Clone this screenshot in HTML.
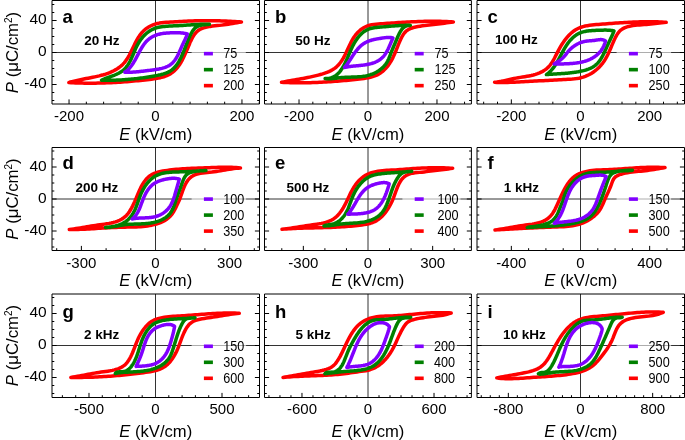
<!DOCTYPE html>
<html><head><meta charset="utf-8"><style>
html,body{margin:0;padding:0;background:#fff;overflow:hidden;}
svg{display:block;font-family:"Liberation Sans",sans-serif;will-change:transform;}
</style></head><body>
<svg xmlns="http://www.w3.org/2000/svg" width="685" height="440" viewBox="0 0 685 440"><rect width="685" height="440" fill="#fff"/><g><line x1="52.0" y1="52.5" x2="259.5" y2="52.5" stroke="#333" stroke-width="1"/><line x1="155.5" y1="0.5" x2="155.5" y2="104.0" stroke="#333" stroke-width="1"/><path d="M241.50,22.00 239.29,21.84 237.08,21.69 234.87,21.55 232.66,21.42 230.44,21.29 228.22,21.18 226.00,21.07 223.78,20.98 221.56,20.90 219.33,20.82 217.11,20.76 214.89,20.71 212.67,20.67 210.45,20.65 208.23,20.63 206.01,20.63 203.79,20.64 201.58,20.67 199.37,20.71 197.16,20.76 194.95,20.82 192.75,20.90 190.54,20.98 188.34,21.08 186.13,21.18 183.92,21.29 181.70,21.40 179.48,21.52 177.26,21.65 175.03,21.78 172.80,21.90 170.55,22.03 168.30,22.17 166.05,22.31 163.81,22.50 161.58,22.75 159.37,23.09 157.20,23.54 155.07,24.12 153.00,24.85 150.99,25.73 149.05,26.76 147.21,27.92 145.45,29.21 143.81,30.64 142.28,32.19 140.88,33.85 139.57,35.61 138.35,37.45 137.20,39.37 136.12,41.34 135.08,43.36 134.08,45.40 133.10,47.46 132.12,49.51 131.14,51.56 130.13,53.58 129.08,55.56 127.98,57.48 126.80,59.35 125.55,61.13 124.19,62.82 122.73,64.41 121.14,65.89 119.43,67.25 117.63,68.50 115.75,69.65 113.81,70.70 111.83,71.66 109.81,72.53 107.75,73.33 105.66,74.05 103.54,74.71 101.40,75.31 99.24,75.87 97.06,76.38 94.86,76.86 92.66,77.31 90.45,77.75 88.24,78.17 86.02,78.58 83.82,79.00 81.62,79.42 79.43,79.87 77.26,80.34 75.11,80.84 72.98,81.38 70.87,81.96 68.80,82.60 71.05,82.72 73.31,82.82 75.55,82.91 77.80,82.98 80.05,83.05 82.29,83.10 84.53,83.14 86.77,83.16 89.00,83.17 91.24,83.17 93.47,83.16 95.71,83.14 97.94,83.11 100.17,83.06 102.40,83.00 104.63,82.93 106.86,82.85 109.09,82.76 111.32,82.66 113.55,82.54 115.78,82.42 118.01,82.29 120.24,82.14 122.47,81.99 124.70,81.82 126.94,81.65 129.17,81.47 131.41,81.27 133.64,81.07 135.88,80.86 138.12,80.64 140.37,80.41 142.61,80.17 144.86,79.93 147.11,79.67 149.36,79.41 151.61,79.14 153.86,78.84 156.10,78.51 158.32,78.13 160.50,77.67 162.65,77.12 164.75,76.46 166.79,75.67 168.77,74.74 170.67,73.64 172.48,72.37 174.21,70.92 175.83,69.32 177.35,67.60 178.75,65.79 180.02,63.92 181.19,62.01 182.26,60.06 183.26,58.08 184.20,56.07 185.11,54.05 186.01,52.03 186.91,50.00 187.81,47.96 188.72,45.89 189.63,43.78 190.56,41.65 191.53,39.54 192.57,37.49 193.70,35.54 194.96,33.74 196.35,32.12 197.92,30.72 199.67,29.56 201.56,28.61 203.59,27.85 205.72,27.24 207.94,26.76 210.23,26.39 212.55,26.09 214.88,25.84 217.21,25.61 219.50,25.38 221.76,25.12 223.97,24.83 226.15,24.52 228.32,24.20 230.48,23.85 232.64,23.50 234.81,23.13 237.01,22.75 239.23,22.38 241.50,22.00Z" fill="none" stroke="#ff0000" stroke-width="3.5" stroke-linejoin="round" stroke-linecap="round"/><path d="M209.50,24.30 208.00,24.26 206.50,24.24 205.01,24.24 203.51,24.26 202.02,24.29 200.53,24.34 199.03,24.39 197.54,24.46 196.06,24.54 194.57,24.62 193.08,24.71 191.60,24.81 190.12,24.91 188.64,25.00 187.15,25.10 185.68,25.20 184.20,25.29 182.72,25.38 181.24,25.46 179.76,25.55 178.28,25.63 176.80,25.71 175.30,25.79 173.81,25.86 172.30,25.94 170.79,26.02 169.26,26.10 167.73,26.18 166.19,26.28 164.66,26.40 163.13,26.55 161.61,26.74 160.11,26.97 158.64,27.26 157.19,27.61 155.77,28.02 154.38,28.52 153.04,29.09 151.73,29.74 150.46,30.46 149.24,31.24 148.05,32.09 146.90,33.00 145.79,33.97 144.72,34.99 143.69,36.05 142.70,37.16 141.75,38.32 140.84,39.51 139.98,40.73 139.15,41.99 138.37,43.27 137.62,44.57 136.92,45.90 136.26,47.24 135.64,48.59 135.03,49.96 134.45,51.33 133.87,52.72 133.30,54.10 132.71,55.49 132.11,56.88 131.49,58.27 130.84,59.66 130.15,61.02 129.43,62.36 128.66,63.68 127.86,64.95 127.00,66.17 126.09,67.34 125.13,68.45 124.11,69.49 123.02,70.44 121.87,71.32 120.66,72.12 119.41,72.85 118.10,73.53 116.76,74.16 115.39,74.74 114.00,75.30 112.59,75.83 111.17,76.35 109.74,76.86 108.32,77.38 106.91,77.90 105.51,78.45 104.14,79.03 102.80,79.64 101.50,80.30 103.04,80.32 104.58,80.32 106.11,80.32 107.65,80.31 109.17,80.30 110.70,80.27 112.22,80.24 113.74,80.20 115.25,80.16 116.77,80.10 118.28,80.04 119.79,79.96 121.30,79.88 122.81,79.79 124.31,79.70 125.82,79.59 127.32,79.48 128.83,79.36 130.33,79.22 131.83,79.09 133.34,78.94 134.84,78.78 136.34,78.62 137.85,78.44 139.35,78.26 140.86,78.07 142.37,77.87 143.87,77.66 145.38,77.44 146.90,77.21 148.41,76.97 149.93,76.73 151.45,76.47 152.97,76.21 154.49,75.93 156.02,75.65 157.55,75.36 159.07,75.04 160.59,74.70 162.09,74.32 163.56,73.91 165.01,73.44 166.42,72.91 167.79,72.32 169.12,71.66 170.39,70.92 171.61,70.09 172.76,69.17 173.86,68.16 174.89,67.07 175.86,65.91 176.79,64.69 177.66,63.42 178.49,62.12 179.27,60.78 180.01,59.42 180.72,58.05 181.39,56.67 182.03,55.28 182.65,53.88 183.24,52.48 183.82,51.08 184.38,49.67 184.93,48.26 185.48,46.84 186.03,45.43 186.58,44.01 187.13,42.60 187.69,41.19 188.27,39.78 188.87,38.38 189.49,36.98 190.13,35.59 190.80,34.21 191.52,32.85 192.28,31.53 193.12,30.29 194.04,29.13 195.05,28.10 196.18,27.20 197.43,26.47 198.80,25.90 200.25,25.45 201.76,25.12 203.32,24.87 204.90,24.68 206.47,24.54 208.01,24.42 209.50,24.30Z" fill="none" stroke="#008000" stroke-width="3.5" stroke-linejoin="round" stroke-linecap="round"/><path d="M187.30,34.00 186.42,33.77 185.54,33.56 184.66,33.39 183.77,33.23 182.88,33.10 181.98,32.98 181.09,32.89 180.19,32.82 179.28,32.76 178.38,32.72 177.47,32.70 176.57,32.68 175.65,32.68 174.74,32.69 173.83,32.71 172.91,32.73 171.99,32.77 171.08,32.80 170.16,32.85 169.23,32.89 168.31,32.94 167.39,33.00 166.47,33.06 165.55,33.14 164.63,33.23 163.71,33.34 162.79,33.46 161.88,33.61 160.97,33.78 160.06,33.97 159.16,34.19 158.26,34.43 157.38,34.70 156.51,34.99 155.64,35.30 154.79,35.64 153.96,36.00 153.14,36.39 152.34,36.81 151.55,37.25 150.79,37.72 150.05,38.21 149.34,38.73 148.64,39.28 147.97,39.85 147.33,40.45 146.70,41.07 146.10,41.71 145.52,42.37 144.95,43.06 144.40,43.76 143.86,44.47 143.35,45.21 142.84,45.96 142.35,46.72 141.86,47.49 141.39,48.28 140.93,49.08 140.47,49.88 140.02,50.70 139.58,51.51 139.14,52.34 138.70,53.17 138.27,54.00 137.84,54.83 137.40,55.67 136.97,56.50 136.53,57.33 136.09,58.16 135.65,58.99 135.20,59.81 134.74,60.62 134.27,61.43 133.80,62.22 133.31,63.01 132.82,63.79 132.31,64.55 131.79,65.30 131.25,66.03 130.69,66.75 130.12,67.45 129.53,68.13 128.92,68.80 128.30,69.44 127.64,70.06 126.97,70.66 126.27,71.23 125.55,71.78 124.80,72.30 125.75,72.31 126.69,72.31 127.62,72.30 128.55,72.29 129.48,72.26 130.40,72.23 131.31,72.19 132.22,72.14 133.13,72.09 134.04,72.03 134.94,71.96 135.84,71.89 136.74,71.81 137.64,71.73 138.54,71.64 139.44,71.55 140.34,71.46 141.24,71.36 142.14,71.26 143.05,71.15 143.95,71.04 144.86,70.94 145.77,70.82 146.69,70.71 147.61,70.60 148.54,70.48 149.47,70.37 150.40,70.25 151.35,70.14 152.29,70.02 153.24,69.90 154.19,69.77 155.14,69.64 156.09,69.50 157.03,69.35 157.97,69.18 158.91,69.01 159.84,68.82 160.76,68.62 161.67,68.40 162.57,68.16 163.45,67.90 164.33,67.63 165.19,67.33 166.03,67.00 166.85,66.65 167.66,66.27 168.44,65.87 169.21,65.43 169.95,64.96 170.67,64.46 171.36,63.93 172.02,63.36 172.66,62.75 173.27,62.11 173.85,61.45 174.42,60.75 174.96,60.02 175.48,59.27 175.98,58.50 176.46,57.70 176.93,56.89 177.39,56.06 177.82,55.22 178.25,54.37 178.67,53.50 179.07,52.63 179.47,51.76 179.86,50.88 180.25,50.00 180.63,49.12 181.01,48.24 181.39,47.37 181.77,46.51 182.15,45.65 182.53,44.81 182.92,43.98 183.30,43.17 183.69,42.36 184.08,41.55 184.47,40.75 184.85,39.94 185.23,39.13 185.60,38.31 185.96,37.49 186.32,36.64 186.66,35.78 186.99,34.90 187.30,34.00Z" fill="none" stroke="#8000ff" stroke-width="3.5" stroke-linejoin="round" stroke-linecap="round"/><rect x="191.60" y="42.5" width="54.20" height="55" fill="#fff" fill-opacity="0.6"/><rect x="203.90" y="51.85" width="9" height="3.6" fill="#8000ff"/><text transform="translate(223.20,58.45) scale(0.95,1.05)" font-size="13.3" text-anchor="start" font-weight="normal" >75</text><rect x="203.90" y="67.85" width="9" height="3.6" fill="#008000"/><text transform="translate(223.20,74.45) scale(0.95,1.05)" font-size="13.3" text-anchor="start" font-weight="normal" >125</text><rect x="203.90" y="83.85" width="9" height="3.6" fill="#ff0000"/><text transform="translate(223.20,90.45) scale(0.95,1.05)" font-size="13.3" text-anchor="start" font-weight="normal" >200</text><path d="M52.0,0.5 H259.5 V104.0 H52.0 Z" fill="none" stroke="#000" stroke-width="1"/><line x1="52.0" y1="100.50" x2="54.3" y2="100.50" stroke="#000" stroke-width="1"/><line x1="259.5" y1="100.50" x2="257.2" y2="100.50" stroke="#000" stroke-width="1"/><line x1="52.0" y1="92.50" x2="54.3" y2="92.50" stroke="#000" stroke-width="1"/><line x1="259.5" y1="92.50" x2="257.2" y2="92.50" stroke="#000" stroke-width="1"/><line x1="52.0" y1="84.50" x2="56.6" y2="84.50" stroke="#000" stroke-width="1"/><line x1="259.5" y1="84.50" x2="254.9" y2="84.50" stroke="#000" stroke-width="1"/><line x1="52.0" y1="76.50" x2="54.3" y2="76.50" stroke="#000" stroke-width="1"/><line x1="259.5" y1="76.50" x2="257.2" y2="76.50" stroke="#000" stroke-width="1"/><line x1="52.0" y1="68.50" x2="54.3" y2="68.50" stroke="#000" stroke-width="1"/><line x1="259.5" y1="68.50" x2="257.2" y2="68.50" stroke="#000" stroke-width="1"/><line x1="52.0" y1="60.50" x2="54.3" y2="60.50" stroke="#000" stroke-width="1"/><line x1="259.5" y1="60.50" x2="257.2" y2="60.50" stroke="#000" stroke-width="1"/><line x1="52.0" y1="52.50" x2="56.6" y2="52.50" stroke="#000" stroke-width="1"/><line x1="259.5" y1="52.50" x2="254.9" y2="52.50" stroke="#000" stroke-width="1"/><line x1="52.0" y1="44.50" x2="54.3" y2="44.50" stroke="#000" stroke-width="1"/><line x1="259.5" y1="44.50" x2="257.2" y2="44.50" stroke="#000" stroke-width="1"/><line x1="52.0" y1="36.50" x2="54.3" y2="36.50" stroke="#000" stroke-width="1"/><line x1="259.5" y1="36.50" x2="257.2" y2="36.50" stroke="#000" stroke-width="1"/><line x1="52.0" y1="28.50" x2="54.3" y2="28.50" stroke="#000" stroke-width="1"/><line x1="259.5" y1="28.50" x2="257.2" y2="28.50" stroke="#000" stroke-width="1"/><line x1="52.0" y1="20.50" x2="56.6" y2="20.50" stroke="#000" stroke-width="1"/><line x1="259.5" y1="20.50" x2="254.9" y2="20.50" stroke="#000" stroke-width="1"/><line x1="52.0" y1="12.50" x2="54.3" y2="12.50" stroke="#000" stroke-width="1"/><line x1="259.5" y1="12.50" x2="257.2" y2="12.50" stroke="#000" stroke-width="1"/><line x1="52.0" y1="4.50" x2="54.3" y2="4.50" stroke="#000" stroke-width="1"/><line x1="259.5" y1="4.50" x2="257.2" y2="4.50" stroke="#000" stroke-width="1"/><line x1="69.04" y1="104.0" x2="69.04" y2="99.4" stroke="#000" stroke-width="1"/><line x1="86.33" y1="104.0" x2="86.33" y2="101.7" stroke="#000" stroke-width="1"/><line x1="103.62" y1="104.0" x2="103.62" y2="101.7" stroke="#000" stroke-width="1"/><line x1="120.92" y1="104.0" x2="120.92" y2="101.7" stroke="#000" stroke-width="1"/><line x1="138.21" y1="104.0" x2="138.21" y2="101.7" stroke="#000" stroke-width="1"/><line x1="172.79" y1="104.0" x2="172.79" y2="101.7" stroke="#000" stroke-width="1"/><line x1="190.08" y1="104.0" x2="190.08" y2="101.7" stroke="#000" stroke-width="1"/><line x1="207.38" y1="104.0" x2="207.38" y2="101.7" stroke="#000" stroke-width="1"/><line x1="224.67" y1="104.0" x2="224.67" y2="101.7" stroke="#000" stroke-width="1"/><line x1="241.96" y1="104.0" x2="241.96" y2="99.4" stroke="#000" stroke-width="1"/><line x1="259.25" y1="104.0" x2="259.25" y2="101.7" stroke="#000" stroke-width="1"/><text x="69.04" y="121.00" font-size="15.0" text-anchor="middle" font-weight="normal" >-200</text><text x="155.50" y="121.00" font-size="15.0" text-anchor="middle" font-weight="normal" >0</text><text x="241.96" y="121.00" font-size="15.0" text-anchor="middle" font-weight="normal" >200</text><text x="155.75" y="139.60" font-size="16.6" text-anchor="middle"><tspan font-style="italic">E</tspan> (kV/cm)</text><text x="62.50" y="22.60" font-size="18.5" text-anchor="start" font-weight="bold" >a</text><text x="84.20" y="45.00" font-size="13.5" text-anchor="start" font-weight="bold" >20 Hz</text><text x="46.70" y="24.40" font-size="15.5" text-anchor="end" font-weight="normal" >40</text><text x="46.70" y="56.40" font-size="15.5" text-anchor="end" font-weight="normal" >0</text><text x="46.70" y="88.40" font-size="15.5" text-anchor="end" font-weight="normal" >-40</text><text transform="translate(18.3,52.5) rotate(-90)" font-size="16.8" text-anchor="middle"><tspan font-style="italic">P</tspan> (&#956;C/cm<tspan font-size="10" dy="-6">2</tspan><tspan dy="6">)</tspan></text></g><g><line x1="264.5" y1="52.5" x2="471.4" y2="52.5" stroke="#333" stroke-width="1"/><line x1="368.0" y1="0.5" x2="368.0" y2="104.0" stroke="#333" stroke-width="1"/><path d="M453.40,22.00 451.19,21.84 448.98,21.69 446.78,21.57 444.57,21.47 442.36,21.39 440.16,21.33 437.95,21.28 435.75,21.25 433.54,21.24 431.34,21.24 429.14,21.26 426.93,21.29 424.73,21.34 422.52,21.39 420.32,21.46 418.12,21.54 415.92,21.63 413.71,21.73 411.51,21.83 409.31,21.95 407.11,22.07 404.90,22.19 402.70,22.32 400.50,22.46 398.30,22.59 396.10,22.74 393.89,22.88 391.69,23.02 389.49,23.17 387.28,23.32 385.06,23.47 382.84,23.63 380.61,23.79 378.38,23.96 376.14,24.15 373.93,24.41 371.74,24.76 369.61,25.25 367.54,25.90 365.55,26.74 363.64,27.75 361.82,28.93 360.10,30.25 358.48,31.70 356.96,33.28 355.56,34.96 354.27,36.72 353.08,38.57 351.97,40.48 350.93,42.44 349.93,44.44 348.98,46.48 348.03,48.53 347.09,50.58 346.13,52.63 345.14,54.66 344.11,56.66 343.02,58.61 341.86,60.49 340.62,62.29 339.29,63.99 337.85,65.58 336.30,67.05 334.63,68.37 332.83,69.55 330.93,70.60 328.94,71.55 326.89,72.39 324.78,73.15 322.63,73.84 320.47,74.48 318.31,75.07 316.15,75.63 313.99,76.16 311.83,76.66 309.67,77.13 307.51,77.58 305.35,78.00 303.20,78.42 301.04,78.81 298.88,79.20 296.72,79.58 294.55,79.96 292.39,80.33 290.22,80.71 288.04,81.09 285.87,81.48 283.69,81.88 281.50,82.30 283.73,82.42 285.97,82.52 288.20,82.60 290.43,82.67 292.66,82.72 294.89,82.76 297.12,82.78 299.35,82.79 301.58,82.78 303.81,82.76 306.04,82.73 308.27,82.68 310.50,82.63 312.73,82.56 314.95,82.47 317.18,82.38 319.41,82.28 321.64,82.17 323.87,82.05 326.09,81.92 328.32,81.78 330.55,81.64 332.77,81.48 335.00,81.32 337.23,81.16 339.45,80.98 341.68,80.80 343.90,80.62 346.13,80.43 348.36,80.24 350.58,80.04 352.81,79.84 355.03,79.61 357.25,79.37 359.46,79.10 361.68,78.80 363.88,78.47 366.08,78.10 368.27,77.68 370.45,77.20 372.60,76.64 374.70,75.95 376.74,75.12 378.69,74.10 380.55,72.92 382.33,71.58 384.01,70.11 385.59,68.52 387.08,66.83 388.47,65.05 389.76,63.20 390.94,61.30 392.03,59.35 393.04,57.36 393.99,55.33 394.89,53.28 395.76,51.21 396.60,49.12 397.43,47.03 398.27,44.93 399.13,42.84 400.02,40.77 400.97,38.71 401.98,36.70 403.10,34.80 404.37,33.04 405.80,31.47 407.44,30.15 409.28,29.08 411.28,28.22 413.41,27.54 415.62,27.00 417.87,26.56 420.14,26.18 422.39,25.85 424.64,25.56 426.89,25.29 429.12,25.04 431.34,24.80 433.56,24.55 435.76,24.29 437.96,24.03 440.15,23.75 442.34,23.47 444.53,23.18 446.73,22.88 448.94,22.59 451.16,22.29 453.40,22.00Z" fill="none" stroke="#ff0000" stroke-width="3.5" stroke-linejoin="round" stroke-linecap="round"/><path d="M410.40,25.40 409.14,25.37 407.87,25.35 406.62,25.35 405.37,25.36 404.12,25.38 402.87,25.42 401.63,25.47 400.39,25.53 399.15,25.59 397.91,25.67 396.68,25.75 395.44,25.84 394.20,25.93 392.96,26.03 391.72,26.13 390.48,26.24 389.23,26.35 387.98,26.45 386.73,26.56 385.48,26.67 384.22,26.77 382.95,26.87 381.69,26.97 380.41,27.06 379.13,27.16 377.86,27.27 376.59,27.39 375.33,27.54 374.08,27.72 372.84,27.93 371.63,28.19 370.44,28.50 369.27,28.87 368.13,29.30 367.02,29.81 365.95,30.38 364.91,31.01 363.90,31.71 362.92,32.46 361.98,33.26 361.06,34.11 360.18,35.00 359.33,35.94 358.51,36.90 357.72,37.90 356.96,38.93 356.23,39.98 355.53,41.04 354.87,42.13 354.23,43.22 353.61,44.32 353.03,45.43 352.46,46.55 351.91,47.67 351.38,48.80 350.87,49.94 350.36,51.07 349.87,52.22 349.38,53.36 348.89,54.51 348.40,55.65 347.92,56.80 347.42,57.94 346.92,59.09 346.42,60.23 345.89,61.36 345.36,62.49 344.81,63.62 344.23,64.74 343.64,65.85 343.01,66.95 342.37,68.03 341.69,69.09 340.98,70.12 340.24,71.12 339.46,72.07 338.64,72.98 337.78,73.85 336.88,74.65 335.94,75.40 334.95,76.08 333.91,76.69 332.82,77.22 331.68,77.67 330.48,78.03 329.23,78.30 327.92,78.47 326.54,78.54 325.10,78.50 326.41,78.64 327.70,78.71 328.97,78.73 330.24,78.71 331.49,78.65 332.74,78.55 333.98,78.43 335.22,78.30 336.45,78.15 337.69,78.00 338.93,77.85 340.17,77.71 341.42,77.59 342.67,77.48 343.94,77.40 345.20,77.33 346.48,77.28 347.76,77.23 349.04,77.19 350.32,77.15 351.60,77.12 352.89,77.08 354.17,77.04 355.46,76.99 356.74,76.93 358.02,76.85 359.30,76.76 360.57,76.64 361.83,76.51 363.09,76.35 364.35,76.16 365.59,75.94 366.83,75.68 368.05,75.39 369.27,75.06 370.47,74.68 371.66,74.27 372.84,73.81 373.99,73.32 375.13,72.78 376.24,72.20 377.32,71.58 378.38,70.93 379.41,70.23 380.41,69.49 381.38,68.71 382.31,67.89 383.20,67.03 384.06,66.13 384.87,65.19 385.64,64.21 386.36,63.18 387.03,62.12 387.66,61.02 388.24,59.88 388.77,58.71 389.27,57.52 389.74,56.31 390.20,55.09 390.65,53.87 391.11,52.66 391.57,51.47 392.05,50.29 392.54,49.12 393.03,47.96 393.52,46.81 394.02,45.65 394.51,44.50 395.00,43.33 395.48,42.17 395.97,41.00 396.45,39.83 396.95,38.66 397.45,37.49 397.97,36.32 398.50,35.15 399.05,33.99 399.62,32.85 400.23,31.74 400.89,30.67 401.60,29.66 402.37,28.72 403.22,27.87 404.15,27.12 405.18,26.49 406.30,25.99 407.54,25.63 408.91,25.43 410.40,25.40Z" fill="none" stroke="#008000" stroke-width="3.5" stroke-linejoin="round" stroke-linecap="round"/><path d="M393.00,38.00 392.34,37.83 391.67,37.69 391.01,37.58 390.34,37.51 389.66,37.46 388.99,37.44 388.32,37.44 387.64,37.46 386.96,37.49 386.28,37.55 385.60,37.62 384.92,37.70 384.23,37.79 383.55,37.89 382.86,37.99 382.18,38.09 381.49,38.20 380.81,38.30 380.12,38.41 379.44,38.52 378.75,38.63 378.06,38.74 377.38,38.86 376.70,38.98 376.02,39.11 375.34,39.25 374.66,39.39 373.98,39.55 373.31,39.71 372.64,39.88 371.97,40.06 371.31,40.25 370.64,40.46 369.99,40.67 369.33,40.90 368.69,41.15 368.05,41.40 367.41,41.67 366.79,41.95 366.17,42.25 365.56,42.56 364.96,42.89 364.37,43.23 363.79,43.59 363.22,43.96 362.66,44.35 362.12,44.75 361.59,45.17 361.07,45.61 360.55,46.06 360.06,46.52 359.57,46.99 359.09,47.48 358.62,47.98 358.15,48.48 357.70,49.00 357.26,49.53 356.82,50.06 356.39,50.61 355.97,51.16 355.55,51.71 355.14,52.27 354.74,52.84 354.34,53.41 353.94,53.98 353.55,54.56 353.17,55.14 352.79,55.72 352.41,56.30 352.03,56.88 351.66,57.46 351.29,58.04 350.92,58.61 350.55,59.19 350.18,59.76 349.80,60.33 349.43,60.90 349.05,61.47 348.67,62.03 348.29,62.59 347.90,63.15 347.50,63.71 347.10,64.26 346.69,64.81 346.27,65.36 345.84,65.90 345.41,66.44 344.96,66.97 344.50,67.50 345.17,67.34 345.85,67.19 346.52,67.06 347.20,66.93 347.88,66.81 348.57,66.70 349.26,66.59 349.94,66.50 350.64,66.40 351.33,66.32 352.02,66.24 352.72,66.16 353.42,66.09 354.11,66.02 354.81,65.96 355.51,65.89 356.22,65.83 356.92,65.77 357.62,65.70 358.32,65.64 359.03,65.57 359.73,65.51 360.44,65.44 361.14,65.36 361.84,65.29 362.55,65.21 363.25,65.12 363.95,65.03 364.65,64.93 365.35,64.82 366.05,64.71 366.75,64.59 367.45,64.46 368.15,64.32 368.84,64.17 369.53,64.00 370.22,63.83 370.91,63.65 371.59,63.45 372.27,63.25 372.94,63.03 373.60,62.79 374.26,62.55 374.91,62.29 375.55,62.02 376.19,61.73 376.81,61.43 377.43,61.11 378.03,60.78 378.62,60.44 379.20,60.08 379.77,59.70 380.32,59.30 380.86,58.89 381.38,58.46 381.89,58.02 382.38,57.55 382.86,57.07 383.32,56.57 383.77,56.05 384.20,55.52 384.61,54.98 385.01,54.42 385.41,53.85 385.78,53.27 386.15,52.67 386.51,52.07 386.86,51.46 387.19,50.84 387.52,50.21 387.84,49.57 388.16,48.93 388.46,48.29 388.76,47.64 389.06,46.98 389.35,46.33 389.64,45.67 389.92,45.01 390.20,44.36 390.48,43.70 390.76,43.05 391.03,42.40 391.31,41.75 391.59,41.11 391.86,40.47 392.14,39.84 392.43,39.22 392.71,38.61 393.00,38.00Z" fill="none" stroke="#8000ff" stroke-width="3.5" stroke-linejoin="round" stroke-linecap="round"/><rect x="402.40" y="42.5" width="54.60" height="55" fill="#fff" fill-opacity="0.6"/><rect x="414.70" y="51.85" width="9" height="3.6" fill="#8000ff"/><text transform="translate(434.40,58.45) scale(0.95,1.05)" font-size="13.3" text-anchor="start" font-weight="normal" >75</text><rect x="414.70" y="67.85" width="9" height="3.6" fill="#008000"/><text transform="translate(434.40,74.45) scale(0.95,1.05)" font-size="13.3" text-anchor="start" font-weight="normal" >125</text><rect x="414.70" y="83.85" width="9" height="3.6" fill="#ff0000"/><text transform="translate(434.40,90.45) scale(0.95,1.05)" font-size="13.3" text-anchor="start" font-weight="normal" >250</text><path d="M264.5,0.5 H471.4 V104.0 H264.5 Z" fill="none" stroke="#000" stroke-width="1"/><line x1="264.5" y1="100.50" x2="266.8" y2="100.50" stroke="#000" stroke-width="1"/><line x1="471.4" y1="100.50" x2="469.09999999999997" y2="100.50" stroke="#000" stroke-width="1"/><line x1="264.5" y1="92.50" x2="266.8" y2="92.50" stroke="#000" stroke-width="1"/><line x1="471.4" y1="92.50" x2="469.09999999999997" y2="92.50" stroke="#000" stroke-width="1"/><line x1="264.5" y1="84.50" x2="269.1" y2="84.50" stroke="#000" stroke-width="1"/><line x1="471.4" y1="84.50" x2="466.79999999999995" y2="84.50" stroke="#000" stroke-width="1"/><line x1="264.5" y1="76.50" x2="266.8" y2="76.50" stroke="#000" stroke-width="1"/><line x1="471.4" y1="76.50" x2="469.09999999999997" y2="76.50" stroke="#000" stroke-width="1"/><line x1="264.5" y1="68.50" x2="266.8" y2="68.50" stroke="#000" stroke-width="1"/><line x1="471.4" y1="68.50" x2="469.09999999999997" y2="68.50" stroke="#000" stroke-width="1"/><line x1="264.5" y1="60.50" x2="266.8" y2="60.50" stroke="#000" stroke-width="1"/><line x1="471.4" y1="60.50" x2="469.09999999999997" y2="60.50" stroke="#000" stroke-width="1"/><line x1="264.5" y1="52.50" x2="269.1" y2="52.50" stroke="#000" stroke-width="1"/><line x1="471.4" y1="52.50" x2="466.79999999999995" y2="52.50" stroke="#000" stroke-width="1"/><line x1="264.5" y1="44.50" x2="266.8" y2="44.50" stroke="#000" stroke-width="1"/><line x1="471.4" y1="44.50" x2="469.09999999999997" y2="44.50" stroke="#000" stroke-width="1"/><line x1="264.5" y1="36.50" x2="266.8" y2="36.50" stroke="#000" stroke-width="1"/><line x1="471.4" y1="36.50" x2="469.09999999999997" y2="36.50" stroke="#000" stroke-width="1"/><line x1="264.5" y1="28.50" x2="266.8" y2="28.50" stroke="#000" stroke-width="1"/><line x1="471.4" y1="28.50" x2="469.09999999999997" y2="28.50" stroke="#000" stroke-width="1"/><line x1="264.5" y1="20.50" x2="269.1" y2="20.50" stroke="#000" stroke-width="1"/><line x1="471.4" y1="20.50" x2="466.79999999999995" y2="20.50" stroke="#000" stroke-width="1"/><line x1="264.5" y1="12.50" x2="266.8" y2="12.50" stroke="#000" stroke-width="1"/><line x1="471.4" y1="12.50" x2="469.09999999999997" y2="12.50" stroke="#000" stroke-width="1"/><line x1="264.5" y1="4.50" x2="266.8" y2="4.50" stroke="#000" stroke-width="1"/><line x1="471.4" y1="4.50" x2="469.09999999999997" y2="4.50" stroke="#000" stroke-width="1"/><line x1="271.45" y1="104.0" x2="271.45" y2="101.7" stroke="#000" stroke-width="1"/><line x1="285.24" y1="104.0" x2="285.24" y2="101.7" stroke="#000" stroke-width="1"/><line x1="299.03" y1="104.0" x2="299.03" y2="99.4" stroke="#000" stroke-width="1"/><line x1="312.83" y1="104.0" x2="312.83" y2="101.7" stroke="#000" stroke-width="1"/><line x1="326.62" y1="104.0" x2="326.62" y2="101.7" stroke="#000" stroke-width="1"/><line x1="340.41" y1="104.0" x2="340.41" y2="101.7" stroke="#000" stroke-width="1"/><line x1="354.21" y1="104.0" x2="354.21" y2="101.7" stroke="#000" stroke-width="1"/><line x1="381.79" y1="104.0" x2="381.79" y2="101.7" stroke="#000" stroke-width="1"/><line x1="395.59" y1="104.0" x2="395.59" y2="101.7" stroke="#000" stroke-width="1"/><line x1="409.38" y1="104.0" x2="409.38" y2="101.7" stroke="#000" stroke-width="1"/><line x1="423.17" y1="104.0" x2="423.17" y2="101.7" stroke="#000" stroke-width="1"/><line x1="436.97" y1="104.0" x2="436.97" y2="99.4" stroke="#000" stroke-width="1"/><line x1="450.76" y1="104.0" x2="450.76" y2="101.7" stroke="#000" stroke-width="1"/><line x1="464.55" y1="104.0" x2="464.55" y2="101.7" stroke="#000" stroke-width="1"/><text x="299.03" y="121.00" font-size="15.0" text-anchor="middle" font-weight="normal" >-200</text><text x="368.00" y="121.00" font-size="15.0" text-anchor="middle" font-weight="normal" >0</text><text x="436.97" y="121.00" font-size="15.0" text-anchor="middle" font-weight="normal" >200</text><text x="367.95" y="139.60" font-size="16.6" text-anchor="middle"><tspan font-style="italic">E</tspan> (kV/cm)</text><text x="275.00" y="22.60" font-size="18.5" text-anchor="start" font-weight="bold" >b</text><text x="295.30" y="45.00" font-size="13.5" text-anchor="start" font-weight="bold" >50 Hz</text></g><g><line x1="477.0" y1="52.5" x2="684.5" y2="52.5" stroke="#333" stroke-width="1"/><line x1="580.5" y1="0.5" x2="580.5" y2="104.0" stroke="#333" stroke-width="1"/><path d="M666.20,22.30 664.02,22.15 661.84,22.03 659.66,21.93 657.47,21.85 655.29,21.79 653.10,21.74 650.91,21.72 648.72,21.71 646.53,21.72 644.33,21.74 642.14,21.78 639.94,21.84 637.75,21.90 635.56,21.98 633.37,22.07 631.17,22.17 628.98,22.28 626.79,22.40 624.61,22.53 622.42,22.67 620.24,22.81 618.06,22.95 615.88,23.10 613.70,23.26 611.53,23.41 609.36,23.57 607.20,23.73 605.03,23.90 602.87,24.06 600.69,24.24 598.50,24.42 596.30,24.61 594.08,24.82 591.84,25.05 589.60,25.32 587.38,25.65 585.19,26.07 583.06,26.60 580.98,27.24 578.99,28.04 577.09,28.97 575.26,30.04 573.51,31.24 571.84,32.56 570.24,33.98 568.71,35.50 567.25,37.11 565.85,38.80 564.51,40.57 563.23,42.39 562.00,44.26 560.82,46.18 559.69,48.13 558.60,50.11 557.56,52.10 556.55,54.10 555.56,56.08 554.56,58.04 553.52,59.96 552.44,61.82 551.27,63.60 549.99,65.30 548.59,66.88 547.04,68.34 545.34,69.66 543.52,70.86 541.61,71.93 539.63,72.87 537.59,73.68 535.50,74.37 533.39,74.96 531.24,75.48 529.08,75.92 526.90,76.32 524.71,76.68 522.53,77.03 520.35,77.38 518.18,77.74 516.04,78.14 513.91,78.57 511.80,79.02 509.69,79.48 507.59,79.95 505.48,80.42 503.35,80.86 501.21,81.29 499.04,81.67 496.84,82.01 494.60,82.30 496.82,82.38 499.04,82.43 501.26,82.46 503.49,82.46 505.71,82.44 507.93,82.40 510.15,82.35 512.37,82.27 514.59,82.19 516.81,82.09 519.03,81.98 521.25,81.86 523.47,81.74 525.69,81.61 527.91,81.48 530.12,81.35 532.34,81.23 534.56,81.10 536.78,80.99 539.00,80.87 541.22,80.76 543.44,80.65 545.65,80.54 547.87,80.43 550.09,80.31 552.31,80.19 554.52,80.06 556.74,79.92 558.95,79.78 561.17,79.65 563.40,79.52 565.63,79.41 567.86,79.30 570.09,79.18 572.32,79.03 574.54,78.83 576.74,78.55 578.92,78.18 581.08,77.69 583.21,77.08 585.30,76.34 587.35,75.48 589.34,74.50 591.28,73.41 593.16,72.22 594.96,70.92 596.69,69.51 598.34,68.02 599.90,66.43 601.37,64.77 602.76,63.04 604.05,61.24 605.25,59.39 606.35,57.49 607.38,55.55 608.35,53.57 609.26,51.56 610.15,49.52 611.01,47.47 611.88,45.40 612.75,43.32 613.66,41.23 614.60,39.15 615.61,37.10 616.70,35.11 617.92,33.25 619.27,31.55 620.80,30.08 622.51,28.85 624.38,27.85 626.39,27.06 628.49,26.43 630.66,25.95 632.86,25.58 635.10,25.30 637.36,25.09 639.62,24.92 641.89,24.77 644.14,24.62 646.38,24.45 648.60,24.25 650.80,24.02 653.00,23.78 655.18,23.53 657.37,23.27 659.56,23.01 661.76,22.76 663.97,22.52 666.20,22.30Z" fill="none" stroke="#ff0000" stroke-width="3.5" stroke-linejoin="round" stroke-linecap="round"/><path d="M614.00,31.00 613.00,30.77 612.01,30.59 611.02,30.44 610.03,30.32 609.04,30.24 608.06,30.17 607.07,30.14 606.08,30.12 605.09,30.11 604.10,30.12 603.11,30.14 602.11,30.16 601.12,30.19 600.12,30.22 599.11,30.24 598.11,30.27 597.10,30.31 596.09,30.34 595.08,30.39 594.07,30.44 593.06,30.50 592.06,30.57 591.06,30.65 590.06,30.74 589.06,30.84 588.07,30.96 587.08,31.10 586.10,31.25 585.13,31.42 584.16,31.62 583.21,31.85 582.27,32.11 581.34,32.40 580.43,32.74 579.54,33.13 578.66,33.55 577.80,34.02 576.96,34.52 576.13,35.06 575.32,35.64 574.53,36.24 573.76,36.88 573.00,37.54 572.27,38.23 571.55,38.94 570.85,39.68 570.17,40.43 569.51,41.20 568.87,41.99 568.26,42.79 567.66,43.60 567.08,44.43 566.51,45.26 565.97,46.11 565.43,46.96 564.91,47.82 564.40,48.69 563.90,49.56 563.41,50.44 562.93,51.33 562.45,52.21 561.98,53.10 561.52,53.99 561.05,54.88 560.59,55.77 560.12,56.66 559.66,57.55 559.19,58.43 558.72,59.31 558.24,60.19 557.76,61.06 557.27,61.92 556.76,62.77 556.25,63.62 555.73,64.45 555.19,65.27 554.64,66.09 554.07,66.89 553.48,67.67 552.88,68.45 552.26,69.20 551.61,69.94 550.95,70.67 550.26,71.37 549.54,72.06 548.80,72.73 548.03,73.37 547.23,74.00 546.40,74.60 547.40,74.52 548.41,74.44 549.42,74.37 550.42,74.30 551.43,74.24 552.43,74.18 553.44,74.11 554.44,74.05 555.45,73.99 556.45,73.93 557.46,73.87 558.47,73.81 559.47,73.75 560.48,73.69 561.48,73.62 562.49,73.56 563.49,73.48 564.50,73.41 565.51,73.33 566.51,73.25 567.52,73.16 568.52,73.06 569.53,72.96 570.53,72.85 571.54,72.74 572.54,72.61 573.55,72.48 574.55,72.34 575.56,72.19 576.56,72.04 577.57,71.87 578.57,71.69 579.58,71.50 580.58,71.30 581.58,71.08 582.58,70.85 583.58,70.61 584.57,70.35 585.55,70.07 586.52,69.77 587.48,69.44 588.42,69.10 589.35,68.73 590.27,68.34 591.16,67.91 592.03,67.46 592.89,66.98 593.71,66.47 594.52,65.92 595.29,65.34 596.04,64.72 596.75,64.07 597.44,63.38 598.10,62.66 598.73,61.91 599.34,61.13 599.93,60.32 600.50,59.49 601.04,58.64 601.57,57.77 602.08,56.88 602.57,55.98 603.05,55.06 603.52,54.13 603.98,53.19 604.42,52.24 604.86,51.29 605.29,50.34 605.72,49.38 606.14,48.43 606.56,47.47 606.98,46.53 607.40,45.59 607.82,44.66 608.24,43.74 608.66,42.83 609.09,41.93 609.52,41.04 609.94,40.14 610.37,39.25 610.79,38.36 611.21,37.47 611.63,36.57 612.04,35.67 612.45,34.76 612.85,33.84 613.24,32.90 613.62,31.96 614.00,31.00Z" fill="none" stroke="#008000" stroke-width="3.5" stroke-linejoin="round" stroke-linecap="round"/><path d="M605.50,41.00 604.91,40.61 604.30,40.30 603.68,40.05 603.06,39.87 602.42,39.74 601.77,39.65 601.12,39.62 600.46,39.62 599.79,39.65 599.12,39.71 598.44,39.79 597.76,39.88 597.07,39.99 596.38,40.10 595.70,40.20 595.01,40.30 594.32,40.39 593.63,40.47 592.94,40.53 592.25,40.60 591.56,40.65 590.88,40.70 590.20,40.76 589.52,40.81 588.84,40.87 588.17,40.93 587.50,41.00 586.83,41.08 586.17,41.17 585.51,41.27 584.85,41.39 584.21,41.52 583.56,41.67 582.92,41.84 582.29,42.03 581.66,42.23 581.04,42.45 580.42,42.68 579.81,42.93 579.20,43.19 578.60,43.47 578.00,43.76 577.41,44.07 576.82,44.39 576.23,44.72 575.66,45.07 575.08,45.43 574.51,45.80 573.95,46.18 573.39,46.58 572.84,46.99 572.30,47.41 571.77,47.85 571.25,48.29 570.74,48.75 570.25,49.22 569.78,49.70 569.32,50.19 568.87,50.70 568.43,51.21 568.01,51.72 567.59,52.24 567.17,52.76 566.76,53.29 566.36,53.81 565.95,54.34 565.54,54.86 565.12,55.38 564.70,55.89 564.27,56.39 563.83,56.89 563.38,57.37 562.92,57.84 562.44,58.30 561.94,58.75 561.42,59.17 560.89,59.59 560.34,59.99 559.78,60.39 559.22,60.77 558.64,61.15 558.07,61.52 557.49,61.89 556.91,62.25 556.33,62.62 555.76,62.98 555.20,63.35 554.64,63.72 554.10,64.10 554.76,64.08 555.42,64.06 556.09,64.04 556.76,64.02 557.43,64.01 558.11,63.99 558.78,63.98 559.47,63.97 560.15,63.95 560.84,63.94 561.52,63.92 562.21,63.91 562.91,63.89 563.60,63.88 564.29,63.86 564.99,63.84 565.69,63.82 566.39,63.79 567.08,63.77 567.78,63.74 568.48,63.70 569.18,63.67 569.88,63.62 570.58,63.58 571.28,63.53 571.98,63.48 572.68,63.42 573.38,63.36 574.08,63.29 574.77,63.21 575.47,63.13 576.16,63.04 576.85,62.95 577.54,62.85 578.23,62.74 578.91,62.63 579.60,62.50 580.28,62.37 580.95,62.23 581.63,62.09 582.30,61.93 582.97,61.76 583.63,61.59 584.30,61.41 584.95,61.21 585.61,61.01 586.26,60.79 586.90,60.57 587.54,60.33 588.18,60.08 588.81,59.82 589.44,59.55 590.06,59.26 590.68,58.97 591.29,58.66 591.89,58.34 592.49,58.01 593.08,57.66 593.66,57.30 594.24,56.93 594.80,56.55 595.36,56.15 595.90,55.75 596.44,55.33 596.97,54.89 597.48,54.45 597.98,53.99 598.48,53.52 598.95,53.04 599.42,52.54 599.87,52.03 600.31,51.51 600.74,50.98 601.15,50.43 601.54,49.88 601.93,49.31 602.29,48.73 602.65,48.13 602.98,47.53 603.30,46.92 603.61,46.30 603.90,45.67 604.18,45.03 604.44,44.37 604.68,43.72 604.91,43.05 605.12,42.37 605.32,41.69 605.50,41.00Z" fill="none" stroke="#8000ff" stroke-width="3.5" stroke-linejoin="round" stroke-linecap="round"/><rect x="616.60" y="42.5" width="54.50" height="55" fill="#fff" fill-opacity="0.6"/><rect x="628.90" y="51.85" width="9" height="3.6" fill="#8000ff"/><text transform="translate(648.60,58.45) scale(0.95,1.05)" font-size="13.3" text-anchor="start" font-weight="normal" >75</text><rect x="628.90" y="67.85" width="9" height="3.6" fill="#008000"/><text transform="translate(648.60,74.45) scale(0.95,1.05)" font-size="13.3" text-anchor="start" font-weight="normal" >100</text><rect x="628.90" y="83.85" width="9" height="3.6" fill="#ff0000"/><text transform="translate(648.60,90.45) scale(0.95,1.05)" font-size="13.3" text-anchor="start" font-weight="normal" >250</text><path d="M477.0,0.5 H684.5 V104.0 H477.0 Z" fill="none" stroke="#000" stroke-width="1"/><line x1="477.0" y1="100.50" x2="479.3" y2="100.50" stroke="#000" stroke-width="1"/><line x1="684.5" y1="100.50" x2="682.2" y2="100.50" stroke="#000" stroke-width="1"/><line x1="477.0" y1="92.50" x2="479.3" y2="92.50" stroke="#000" stroke-width="1"/><line x1="684.5" y1="92.50" x2="682.2" y2="92.50" stroke="#000" stroke-width="1"/><line x1="477.0" y1="84.50" x2="481.6" y2="84.50" stroke="#000" stroke-width="1"/><line x1="684.5" y1="84.50" x2="679.9" y2="84.50" stroke="#000" stroke-width="1"/><line x1="477.0" y1="76.50" x2="479.3" y2="76.50" stroke="#000" stroke-width="1"/><line x1="684.5" y1="76.50" x2="682.2" y2="76.50" stroke="#000" stroke-width="1"/><line x1="477.0" y1="68.50" x2="479.3" y2="68.50" stroke="#000" stroke-width="1"/><line x1="684.5" y1="68.50" x2="682.2" y2="68.50" stroke="#000" stroke-width="1"/><line x1="477.0" y1="60.50" x2="479.3" y2="60.50" stroke="#000" stroke-width="1"/><line x1="684.5" y1="60.50" x2="682.2" y2="60.50" stroke="#000" stroke-width="1"/><line x1="477.0" y1="52.50" x2="481.6" y2="52.50" stroke="#000" stroke-width="1"/><line x1="684.5" y1="52.50" x2="679.9" y2="52.50" stroke="#000" stroke-width="1"/><line x1="477.0" y1="44.50" x2="479.3" y2="44.50" stroke="#000" stroke-width="1"/><line x1="684.5" y1="44.50" x2="682.2" y2="44.50" stroke="#000" stroke-width="1"/><line x1="477.0" y1="36.50" x2="479.3" y2="36.50" stroke="#000" stroke-width="1"/><line x1="684.5" y1="36.50" x2="682.2" y2="36.50" stroke="#000" stroke-width="1"/><line x1="477.0" y1="28.50" x2="479.3" y2="28.50" stroke="#000" stroke-width="1"/><line x1="684.5" y1="28.50" x2="682.2" y2="28.50" stroke="#000" stroke-width="1"/><line x1="477.0" y1="20.50" x2="481.6" y2="20.50" stroke="#000" stroke-width="1"/><line x1="684.5" y1="20.50" x2="679.9" y2="20.50" stroke="#000" stroke-width="1"/><line x1="477.0" y1="12.50" x2="479.3" y2="12.50" stroke="#000" stroke-width="1"/><line x1="684.5" y1="12.50" x2="682.2" y2="12.50" stroke="#000" stroke-width="1"/><line x1="477.0" y1="4.50" x2="479.3" y2="4.50" stroke="#000" stroke-width="1"/><line x1="684.5" y1="4.50" x2="682.2" y2="4.50" stroke="#000" stroke-width="1"/><line x1="483.67" y1="104.0" x2="483.67" y2="101.7" stroke="#000" stroke-width="1"/><line x1="497.50" y1="104.0" x2="497.50" y2="101.7" stroke="#000" stroke-width="1"/><line x1="511.33" y1="104.0" x2="511.33" y2="99.4" stroke="#000" stroke-width="1"/><line x1="525.17" y1="104.0" x2="525.17" y2="101.7" stroke="#000" stroke-width="1"/><line x1="539.00" y1="104.0" x2="539.00" y2="101.7" stroke="#000" stroke-width="1"/><line x1="552.83" y1="104.0" x2="552.83" y2="101.7" stroke="#000" stroke-width="1"/><line x1="566.67" y1="104.0" x2="566.67" y2="101.7" stroke="#000" stroke-width="1"/><line x1="594.33" y1="104.0" x2="594.33" y2="101.7" stroke="#000" stroke-width="1"/><line x1="608.17" y1="104.0" x2="608.17" y2="101.7" stroke="#000" stroke-width="1"/><line x1="622.00" y1="104.0" x2="622.00" y2="101.7" stroke="#000" stroke-width="1"/><line x1="635.83" y1="104.0" x2="635.83" y2="101.7" stroke="#000" stroke-width="1"/><line x1="649.67" y1="104.0" x2="649.67" y2="99.4" stroke="#000" stroke-width="1"/><line x1="663.50" y1="104.0" x2="663.50" y2="101.7" stroke="#000" stroke-width="1"/><line x1="677.33" y1="104.0" x2="677.33" y2="101.7" stroke="#000" stroke-width="1"/><text x="511.33" y="121.00" font-size="15.0" text-anchor="middle" font-weight="normal" >-200</text><text x="580.50" y="121.00" font-size="15.0" text-anchor="middle" font-weight="normal" >0</text><text x="649.67" y="121.00" font-size="15.0" text-anchor="middle" font-weight="normal" >200</text><text x="580.75" y="139.60" font-size="16.6" text-anchor="middle"><tspan font-style="italic">E</tspan> (kV/cm)</text><text x="487.50" y="22.60" font-size="18.5" text-anchor="start" font-weight="bold" >c</text><text x="495.00" y="44.40" font-size="13.5" text-anchor="start" font-weight="bold" >100 Hz</text></g><g><line x1="52.0" y1="199.0" x2="259.5" y2="199.0" stroke="#333" stroke-width="1"/><line x1="155.5" y1="147.5" x2="155.5" y2="250.5" stroke="#333" stroke-width="1"/><path d="M240.50,168.00 238.29,167.77 236.07,167.59 233.86,167.44 231.64,167.34 229.41,167.27 227.19,167.23 224.96,167.21 222.74,167.23 220.51,167.26 218.28,167.31 216.06,167.38 213.83,167.46 211.60,167.55 209.38,167.64 207.15,167.74 204.93,167.84 202.71,167.93 200.49,168.02 198.28,168.10 196.06,168.19 193.85,168.28 191.64,168.37 189.43,168.47 187.22,168.58 185.01,168.70 182.80,168.83 180.58,168.99 178.37,169.16 176.16,169.35 173.94,169.56 171.72,169.80 169.50,170.07 167.28,170.37 165.05,170.70 162.82,171.08 160.61,171.51 158.43,172.02 156.31,172.65 154.25,173.41 152.28,174.34 150.43,175.45 148.69,176.76 147.08,178.27 145.60,179.94 144.22,181.75 142.96,183.65 141.80,185.63 140.74,187.64 139.77,189.67 138.88,191.70 138.03,193.73 137.21,195.75 136.39,197.78 135.54,199.80 134.64,201.82 133.69,203.83 132.69,205.84 131.64,207.83 130.53,209.79 129.34,211.70 128.05,213.51 126.63,215.19 125.06,216.71 123.35,218.05 121.53,219.23 119.61,220.24 117.61,221.10 115.53,221.83 113.39,222.44 111.21,222.95 108.98,223.39 106.74,223.77 104.48,224.11 102.22,224.43 99.97,224.74 97.75,225.07 95.54,225.40 93.36,225.75 91.18,226.10 89.02,226.46 86.86,226.82 84.70,227.18 82.54,227.54 80.37,227.89 78.20,228.24 76.00,228.57 73.79,228.90 71.56,229.21 69.30,229.50 71.54,229.50 73.77,229.48 76.01,229.45 78.24,229.39 80.48,229.32 82.71,229.23 84.94,229.13 87.17,229.03 89.41,228.91 91.64,228.78 93.87,228.65 96.10,228.51 98.33,228.37 100.56,228.24 102.79,228.10 105.02,227.96 107.25,227.83 109.49,227.70 111.72,227.59 113.95,227.48 116.18,227.38 118.42,227.30 120.65,227.23 122.88,227.17 125.12,227.13 127.35,227.10 129.59,227.06 131.82,227.02 134.06,226.97 136.29,226.89 138.53,226.78 140.76,226.64 142.99,226.46 145.22,226.23 147.45,225.94 149.67,225.59 151.89,225.16 154.10,224.66 156.28,224.07 158.42,223.39 160.51,222.60 162.54,221.69 164.48,220.66 166.33,219.50 168.07,218.20 169.70,216.75 171.19,215.14 172.54,213.37 173.75,211.45 174.86,209.44 175.89,207.38 176.89,205.34 177.85,203.32 178.78,201.30 179.65,199.26 180.46,197.16 181.22,195.02 181.96,192.87 182.71,190.71 183.50,188.58 184.35,186.49 185.29,184.47 186.34,182.54 187.54,180.71 188.91,179.02 190.46,177.50 192.19,176.20 194.08,175.15 196.12,174.33 198.25,173.71 200.45,173.27 202.71,172.95 204.99,172.72 207.29,172.53 209.59,172.33 211.86,172.10 214.10,171.81 216.32,171.49 218.52,171.13 220.70,170.76 222.88,170.38 225.05,169.99 227.22,169.61 229.39,169.25 231.58,168.91 233.78,168.61 235.99,168.35 238.23,168.14 240.50,168.00Z" fill="none" stroke="#ff0000" stroke-width="3.5" stroke-linejoin="round" stroke-linecap="round"/><path d="M206.00,170.40 204.54,170.51 203.09,170.62 201.65,170.73 200.22,170.83 198.80,170.94 197.38,171.04 195.96,171.13 194.55,171.22 193.13,171.31 191.72,171.40 190.30,171.47 188.88,171.55 187.46,171.61 186.03,171.67 184.59,171.73 183.14,171.77 181.68,171.81 180.21,171.85 178.73,171.88 177.24,171.91 175.75,171.95 174.26,172.00 172.77,172.06 171.29,172.15 169.81,172.25 168.35,172.39 166.90,172.56 165.46,172.77 164.05,173.02 162.66,173.32 161.29,173.67 159.95,174.08 158.63,174.54 157.36,175.07 156.11,175.67 154.91,176.34 153.75,177.09 152.62,177.90 151.53,178.77 150.49,179.71 149.48,180.70 148.51,181.74 147.57,182.83 146.68,183.97 145.82,185.14 145.00,186.35 144.22,187.59 143.47,188.86 142.77,190.15 142.10,191.46 141.46,192.78 140.86,194.12 140.30,195.46 139.77,196.81 139.27,198.16 138.80,199.50 138.33,200.85 137.87,202.20 137.40,203.55 136.92,204.89 136.42,206.23 135.89,207.57 135.33,208.90 134.72,210.22 134.08,211.52 133.39,212.80 132.65,214.04 131.87,215.25 131.03,216.41 130.14,217.52 129.20,218.58 128.20,219.57 127.13,220.49 126.01,221.34 124.83,222.12 123.60,222.83 122.33,223.48 121.01,224.07 119.67,224.60 118.29,225.07 116.89,225.50 115.48,225.87 114.05,226.20 112.61,226.49 111.17,226.74 109.73,226.95 108.31,227.13 106.89,227.28 105.50,227.40 107.00,227.41 108.47,227.34 109.94,227.21 111.39,227.03 112.83,226.80 114.26,226.54 115.68,226.26 117.11,225.97 118.53,225.68 119.95,225.41 121.38,225.15 122.82,224.93 124.26,224.74 125.71,224.59 127.17,224.46 128.63,224.35 130.09,224.27 131.56,224.20 133.03,224.14 134.51,224.09 135.98,224.04 137.46,224.00 138.94,223.95 140.41,223.90 141.88,223.83 143.35,223.76 144.82,223.66 146.28,223.54 147.74,223.40 149.20,223.22 150.64,223.02 152.08,222.77 153.51,222.49 154.94,222.16 156.35,221.79 157.75,221.36 159.13,220.88 160.49,220.34 161.81,219.75 163.10,219.10 164.35,218.39 165.55,217.61 166.69,216.76 167.77,215.85 168.79,214.87 169.74,213.81 170.61,212.68 171.40,211.47 172.12,210.20 172.78,208.87 173.38,207.50 173.93,206.10 174.45,204.67 174.95,203.22 175.42,201.78 175.88,200.34 176.35,198.91 176.82,197.51 177.30,196.13 177.78,194.78 178.28,193.43 178.77,192.09 179.27,190.76 179.78,189.42 180.28,188.07 180.79,186.71 181.30,185.34 181.80,183.94 182.31,182.52 182.83,181.10 183.39,179.71 184.01,178.36 184.71,177.10 185.51,175.93 186.44,174.91 187.49,174.03 188.67,173.29 189.95,172.69 191.33,172.20 192.77,171.81 194.26,171.51 195.79,171.27 197.34,171.10 198.89,170.96 200.42,170.85 201.91,170.76 203.35,170.66 204.72,170.54 206.00,170.40Z" fill="none" stroke="#008000" stroke-width="3.5" stroke-linejoin="round" stroke-linecap="round"/><path d="M179.30,179.20 178.57,178.97 177.84,178.78 177.10,178.62 176.35,178.49 175.60,178.40 174.85,178.33 174.09,178.29 173.33,178.28 172.57,178.30 171.80,178.33 171.03,178.39 170.26,178.46 169.49,178.55 168.71,178.66 167.94,178.78 167.16,178.91 166.39,179.06 165.61,179.21 164.84,179.37 164.07,179.55 163.31,179.74 162.54,179.94 161.79,180.15 161.04,180.38 160.30,180.63 159.57,180.89 158.84,181.16 158.13,181.46 157.42,181.77 156.73,182.09 156.05,182.44 155.39,182.80 154.74,183.19 154.10,183.59 153.48,184.02 152.88,184.47 152.30,184.94 151.73,185.43 151.18,185.94 150.65,186.47 150.14,187.02 149.64,187.59 149.15,188.17 148.68,188.77 148.23,189.38 147.79,190.01 147.36,190.65 146.95,191.31 146.55,191.98 146.16,192.65 145.78,193.34 145.42,194.03 145.06,194.74 144.72,195.45 144.39,196.17 144.06,196.89 143.75,197.61 143.44,198.34 143.14,199.08 142.85,199.81 142.57,200.55 142.30,201.28 142.02,202.02 141.76,202.75 141.49,203.48 141.22,204.21 140.96,204.94 140.69,205.66 140.42,206.38 140.14,207.10 139.86,207.81 139.57,208.51 139.27,209.21 138.95,209.90 138.63,210.58 138.30,211.26 137.95,211.92 137.58,212.58 137.20,213.22 136.79,213.86 136.37,214.48 135.93,215.10 135.46,215.70 134.97,216.28 134.45,216.86 133.91,217.41 133.34,217.96 132.73,218.49 132.10,219.00 132.85,218.84 133.61,218.70 134.38,218.58 135.15,218.47 135.93,218.38 136.71,218.30 137.50,218.23 138.29,218.17 139.09,218.12 139.88,218.08 140.68,218.04 141.49,218.01 142.29,217.98 143.10,217.95 143.91,217.92 144.71,217.90 145.52,217.86 146.33,217.83 147.14,217.78 147.94,217.73 148.74,217.67 149.54,217.60 150.34,217.52 151.13,217.43 151.92,217.32 152.71,217.20 153.49,217.05 154.27,216.89 155.04,216.71 155.80,216.51 156.56,216.28 157.31,216.04 158.05,215.76 158.78,215.47 159.51,215.16 160.22,214.82 160.92,214.47 161.61,214.09 162.29,213.69 162.95,213.28 163.61,212.84 164.24,212.38 164.86,211.91 165.47,211.41 166.06,210.90 166.63,210.37 167.18,209.82 167.71,209.25 168.23,208.67 168.72,208.06 169.20,207.44 169.65,206.81 170.08,206.16 170.49,205.49 170.89,204.81 171.26,204.12 171.62,203.41 171.96,202.70 172.29,201.97 172.61,201.24 172.91,200.50 173.20,199.75 173.48,198.99 173.75,198.23 174.01,197.46 174.26,196.69 174.51,195.92 174.74,195.15 174.98,194.37 175.20,193.60 175.43,192.82 175.65,192.05 175.87,191.28 176.09,190.52 176.31,189.76 176.53,189.00 176.75,188.25 176.96,187.49 177.18,186.74 177.40,185.99 177.61,185.24 177.82,184.49 178.04,183.74 178.25,182.99 178.46,182.24 178.67,181.48 178.88,180.72 179.09,179.96 179.30,179.20Z" fill="none" stroke="#8000ff" stroke-width="3.5" stroke-linejoin="round" stroke-linecap="round"/><rect x="191.60" y="189.0" width="54.50" height="55" fill="#fff" fill-opacity="0.6"/><rect x="203.90" y="197.30" width="9" height="3.6" fill="#8000ff"/><text transform="translate(223.20,203.90) scale(0.95,1.05)" font-size="13.3" text-anchor="start" font-weight="normal" >100</text><rect x="203.90" y="213.30" width="9" height="3.6" fill="#008000"/><text transform="translate(223.20,219.90) scale(0.95,1.05)" font-size="13.3" text-anchor="start" font-weight="normal" >200</text><rect x="203.90" y="229.30" width="9" height="3.6" fill="#ff0000"/><text transform="translate(223.20,235.90) scale(0.95,1.05)" font-size="13.3" text-anchor="start" font-weight="normal" >350</text><path d="M52.0,147.5 H259.5 V250.5 H52.0 Z" fill="none" stroke="#000" stroke-width="1"/><line x1="52.0" y1="247.00" x2="54.3" y2="247.00" stroke="#000" stroke-width="1"/><line x1="259.5" y1="247.00" x2="257.2" y2="247.00" stroke="#000" stroke-width="1"/><line x1="52.0" y1="239.00" x2="54.3" y2="239.00" stroke="#000" stroke-width="1"/><line x1="259.5" y1="239.00" x2="257.2" y2="239.00" stroke="#000" stroke-width="1"/><line x1="52.0" y1="231.00" x2="56.6" y2="231.00" stroke="#000" stroke-width="1"/><line x1="259.5" y1="231.00" x2="254.9" y2="231.00" stroke="#000" stroke-width="1"/><line x1="52.0" y1="223.00" x2="54.3" y2="223.00" stroke="#000" stroke-width="1"/><line x1="259.5" y1="223.00" x2="257.2" y2="223.00" stroke="#000" stroke-width="1"/><line x1="52.0" y1="215.00" x2="54.3" y2="215.00" stroke="#000" stroke-width="1"/><line x1="259.5" y1="215.00" x2="257.2" y2="215.00" stroke="#000" stroke-width="1"/><line x1="52.0" y1="207.00" x2="54.3" y2="207.00" stroke="#000" stroke-width="1"/><line x1="259.5" y1="207.00" x2="257.2" y2="207.00" stroke="#000" stroke-width="1"/><line x1="52.0" y1="199.00" x2="56.6" y2="199.00" stroke="#000" stroke-width="1"/><line x1="259.5" y1="199.00" x2="254.9" y2="199.00" stroke="#000" stroke-width="1"/><line x1="52.0" y1="191.00" x2="54.3" y2="191.00" stroke="#000" stroke-width="1"/><line x1="259.5" y1="191.00" x2="257.2" y2="191.00" stroke="#000" stroke-width="1"/><line x1="52.0" y1="183.00" x2="54.3" y2="183.00" stroke="#000" stroke-width="1"/><line x1="259.5" y1="183.00" x2="257.2" y2="183.00" stroke="#000" stroke-width="1"/><line x1="52.0" y1="175.00" x2="54.3" y2="175.00" stroke="#000" stroke-width="1"/><line x1="259.5" y1="175.00" x2="257.2" y2="175.00" stroke="#000" stroke-width="1"/><line x1="52.0" y1="167.00" x2="56.6" y2="167.00" stroke="#000" stroke-width="1"/><line x1="259.5" y1="167.00" x2="254.9" y2="167.00" stroke="#000" stroke-width="1"/><line x1="52.0" y1="159.00" x2="54.3" y2="159.00" stroke="#000" stroke-width="1"/><line x1="259.5" y1="159.00" x2="257.2" y2="159.00" stroke="#000" stroke-width="1"/><line x1="52.0" y1="151.00" x2="54.3" y2="151.00" stroke="#000" stroke-width="1"/><line x1="259.5" y1="151.00" x2="257.2" y2="151.00" stroke="#000" stroke-width="1"/><line x1="56.69" y1="250.5" x2="56.69" y2="248.2" stroke="#000" stroke-width="1"/><line x1="81.39" y1="250.5" x2="81.39" y2="245.9" stroke="#000" stroke-width="1"/><line x1="106.10" y1="250.5" x2="106.10" y2="248.2" stroke="#000" stroke-width="1"/><line x1="130.80" y1="250.5" x2="130.80" y2="248.2" stroke="#000" stroke-width="1"/><line x1="180.20" y1="250.5" x2="180.20" y2="248.2" stroke="#000" stroke-width="1"/><line x1="204.90" y1="250.5" x2="204.90" y2="248.2" stroke="#000" stroke-width="1"/><line x1="229.61" y1="250.5" x2="229.61" y2="245.9" stroke="#000" stroke-width="1"/><line x1="254.31" y1="250.5" x2="254.31" y2="248.2" stroke="#000" stroke-width="1"/><text x="81.39" y="267.50" font-size="15.0" text-anchor="middle" font-weight="normal" >-300</text><text x="155.50" y="267.50" font-size="15.0" text-anchor="middle" font-weight="normal" >0</text><text x="229.61" y="267.50" font-size="15.0" text-anchor="middle" font-weight="normal" >300</text><text x="155.75" y="285.70" font-size="16.6" text-anchor="middle"><tspan font-style="italic">E</tspan> (kV/cm)</text><text x="62.50" y="168.70" font-size="18.5" text-anchor="start" font-weight="bold" >d</text><text x="75.40" y="192.30" font-size="13.5" text-anchor="start" font-weight="bold" >200 Hz</text><text x="46.70" y="170.90" font-size="15.5" text-anchor="end" font-weight="normal" >40</text><text x="46.70" y="202.90" font-size="15.5" text-anchor="end" font-weight="normal" >0</text><text x="46.70" y="234.90" font-size="15.5" text-anchor="end" font-weight="normal" >-40</text><text transform="translate(18.3,199.0) rotate(-90)" font-size="16.8" text-anchor="middle"><tspan font-style="italic">P</tspan> (&#956;C/cm<tspan font-size="10" dy="-6">2</tspan><tspan dy="6">)</tspan></text></g><g><line x1="264.5" y1="199.0" x2="471.4" y2="199.0" stroke="#333" stroke-width="1"/><line x1="368.0" y1="147.5" x2="368.0" y2="250.5" stroke="#333" stroke-width="1"/><path d="M452.70,168.30 450.51,168.16 448.31,168.04 446.11,167.94 443.91,167.86 441.71,167.80 439.51,167.76 437.31,167.73 435.11,167.73 432.90,167.74 430.70,167.77 428.50,167.81 426.30,167.88 424.10,167.96 421.91,168.05 419.71,168.16 417.52,168.29 415.33,168.43 413.15,168.58 410.97,168.74 408.78,168.91 406.60,169.08 404.42,169.25 402.23,169.42 400.04,169.59 397.84,169.74 395.64,169.88 393.43,170.00 391.21,170.10 388.99,170.21 386.77,170.32 384.55,170.47 382.34,170.66 380.14,170.90 377.95,171.22 375.78,171.63 373.63,172.14 371.52,172.75 369.46,173.49 367.46,174.35 365.54,175.36 363.71,176.50 361.98,177.80 360.35,179.22 358.81,180.76 357.36,182.40 356.00,184.13 354.72,185.94 353.52,187.81 352.40,189.72 351.34,191.67 350.33,193.65 349.35,195.65 348.40,197.67 347.45,199.68 346.49,201.69 345.50,203.68 344.48,205.65 343.40,207.59 342.26,209.48 341.04,211.31 339.74,213.07 338.34,214.72 336.86,216.26 335.26,217.66 333.56,218.91 331.74,219.98 329.82,220.91 327.81,221.69 325.72,222.36 323.58,222.93 321.39,223.41 319.16,223.83 316.92,224.19 314.67,224.53 312.43,224.85 310.22,225.17 308.02,225.50 305.84,225.83 303.68,226.17 301.53,226.50 299.38,226.83 297.24,227.16 295.10,227.48 292.95,227.80 290.79,228.11 288.63,228.40 286.44,228.68 284.23,228.95 282.00,229.20 284.22,229.04 286.44,228.89 288.67,228.76 290.89,228.64 293.11,228.53 295.33,228.43 297.55,228.34 299.77,228.26 301.99,228.19 304.21,228.12 306.43,228.06 308.65,228.01 310.87,227.95 313.10,227.90 315.32,227.85 317.54,227.79 319.75,227.74 321.97,227.68 324.19,227.62 326.41,227.56 328.63,227.49 330.85,227.41 333.07,227.32 335.29,227.22 337.51,227.11 339.73,227.00 341.95,226.86 344.17,226.72 346.38,226.56 348.60,226.38 350.82,226.18 353.04,225.97 355.26,225.73 357.47,225.48 359.69,225.20 361.91,224.91 364.13,224.58 366.33,224.20 368.50,223.75 370.64,223.19 372.72,222.50 374.73,221.65 376.66,220.62 378.50,219.39 380.24,217.98 381.88,216.44 383.43,214.79 384.89,213.08 386.25,211.31 387.53,209.49 388.72,207.62 389.83,205.70 390.87,203.74 391.84,201.73 392.74,199.69 393.58,197.60 394.37,195.49 395.14,193.37 395.91,191.25 396.70,189.14 397.53,187.05 398.43,185.01 399.41,183.02 400.51,181.11 401.77,179.35 403.21,177.77 404.82,176.40 406.60,175.25 408.53,174.33 410.59,173.65 412.76,173.16 415.01,172.82 417.30,172.57 419.61,172.37 421.90,172.16 424.15,171.91 426.36,171.62 428.55,171.31 430.72,170.99 432.89,170.68 435.06,170.40 437.25,170.14 439.44,169.90 441.64,169.66 443.84,169.42 446.05,169.18 448.27,168.91 450.48,168.62 452.70,168.30Z" fill="none" stroke="#ff0000" stroke-width="3.5" stroke-linejoin="round" stroke-linecap="round"/><path d="M411.80,171.30 410.51,171.44 409.22,171.57 407.93,171.68 406.65,171.79 405.37,171.89 404.10,171.99 402.83,172.08 401.55,172.16 400.29,172.24 399.02,172.32 397.75,172.40 396.49,172.47 395.22,172.55 393.96,172.63 392.69,172.71 391.43,172.79 390.16,172.88 388.89,172.98 387.62,173.08 386.35,173.19 385.08,173.31 383.80,173.43 382.52,173.57 381.24,173.72 379.95,173.89 378.67,174.08 377.39,174.29 376.13,174.54 374.87,174.82 373.64,175.14 372.43,175.52 371.24,175.94 370.09,176.43 368.96,176.97 367.87,177.57 366.80,178.22 365.77,178.93 364.77,179.68 363.79,180.47 362.85,181.31 361.94,182.20 361.06,183.12 360.20,184.07 359.38,185.06 358.59,186.08 357.83,187.13 357.10,188.20 356.39,189.30 355.72,190.42 355.08,191.56 354.47,192.72 353.88,193.89 353.33,195.07 352.81,196.26 352.31,197.46 351.83,198.66 351.37,199.87 350.93,201.07 350.49,202.28 350.05,203.48 349.61,204.68 349.16,205.87 348.70,207.06 348.23,208.23 347.73,209.39 347.20,210.53 346.65,211.66 346.06,212.76 345.42,213.85 344.74,214.92 344.01,215.95 343.23,216.96 342.40,217.93 341.53,218.85 340.60,219.73 339.62,220.55 338.60,221.31 337.53,222.00 336.41,222.61 335.24,223.15 334.03,223.60 332.77,223.97 331.48,224.27 330.17,224.52 328.87,224.75 327.59,224.98 326.33,225.23 325.13,225.53 324.00,225.90 325.33,225.90 326.65,225.86 327.95,225.78 329.25,225.67 330.54,225.53 331.82,225.37 333.10,225.19 334.37,224.99 335.64,224.79 336.91,224.59 338.18,224.40 339.46,224.21 340.74,224.04 342.02,223.89 343.31,223.76 344.61,223.65 345.91,223.55 347.21,223.46 348.52,223.39 349.83,223.31 351.14,223.24 352.44,223.16 353.75,223.09 355.06,223.00 356.37,222.90 357.67,222.80 358.97,222.67 360.26,222.52 361.55,222.36 362.84,222.16 364.11,221.94 365.38,221.68 366.65,221.39 367.90,221.06 369.14,220.70 370.37,220.28 371.58,219.83 372.77,219.33 373.94,218.78 375.09,218.18 376.20,217.54 377.28,216.85 378.32,216.10 379.31,215.31 380.27,214.46 381.17,213.56 382.03,212.60 382.83,211.58 383.57,210.52 384.26,209.40 384.91,208.25 385.52,207.08 386.09,205.88 386.64,204.67 387.16,203.45 387.65,202.23 388.13,201.00 388.59,199.77 389.04,198.53 389.47,197.29 389.90,196.05 390.32,194.82 390.74,193.58 391.16,192.35 391.59,191.12 392.02,189.89 392.47,188.68 392.92,187.47 393.40,186.27 393.89,185.08 394.41,183.91 394.95,182.74 395.52,181.60 396.12,180.46 396.75,179.35 397.42,178.25 398.14,177.17 398.90,176.14 399.73,175.16 400.63,174.27 401.62,173.49 402.70,172.83 403.88,172.31 405.18,171.95 406.54,171.71 407.92,171.57 409.29,171.48 410.60,171.40 411.80,171.30Z" fill="none" stroke="#008000" stroke-width="3.5" stroke-linejoin="round" stroke-linecap="round"/><path d="M389.20,183.90 388.64,183.60 388.08,183.34 387.50,183.12 386.92,182.94 386.34,182.80 385.74,182.70 385.15,182.63 384.54,182.59 383.94,182.58 383.32,182.60 382.71,182.64 382.09,182.70 381.46,182.77 380.83,182.87 380.20,182.97 379.57,183.09 378.94,183.22 378.30,183.36 377.66,183.50 377.03,183.66 376.39,183.82 375.76,183.99 375.12,184.17 374.50,184.37 373.87,184.57 373.25,184.78 372.64,185.01 372.03,185.25 371.43,185.49 370.84,185.75 370.26,186.03 369.69,186.31 369.13,186.61 368.58,186.92 368.04,187.25 367.51,187.58 367.00,187.94 366.50,188.30 366.02,188.68 365.54,189.07 365.08,189.47 364.62,189.88 364.18,190.31 363.75,190.74 363.33,191.19 362.91,191.64 362.51,192.11 362.11,192.58 361.72,193.06 361.34,193.55 360.97,194.05 360.60,194.55 360.24,195.06 359.88,195.58 359.54,196.10 359.19,196.63 358.85,197.17 358.51,197.70 358.18,198.24 357.85,198.79 357.53,199.34 357.20,199.89 356.88,200.44 356.56,201.00 356.24,201.55 355.92,202.11 355.60,202.67 355.29,203.23 354.97,203.78 354.65,204.34 354.32,204.90 354.00,205.45 353.67,206.00 353.35,206.55 353.01,207.10 352.68,207.64 352.34,208.18 352.00,208.72 351.65,209.25 351.29,209.77 350.93,210.29 350.57,210.81 350.20,211.31 349.82,211.82 349.43,212.31 349.04,212.79 348.63,213.27 348.22,213.74 347.80,214.20 348.40,214.18 349.00,214.16 349.61,214.14 350.23,214.13 350.86,214.11 351.49,214.09 352.13,214.08 352.78,214.06 353.43,214.04 354.09,214.02 354.75,214.00 355.41,213.98 356.08,213.95 356.74,213.92 357.42,213.88 358.09,213.84 358.76,213.80 359.44,213.75 360.11,213.69 360.79,213.63 361.46,213.56 362.13,213.49 362.80,213.40 363.47,213.31 364.14,213.21 364.80,213.10 365.46,212.99 366.11,212.86 366.76,212.72 367.40,212.57 368.04,212.41 368.67,212.23 369.30,212.05 369.91,211.85 370.52,211.64 371.12,211.41 371.71,211.17 372.29,210.92 372.87,210.65 373.43,210.37 373.98,210.07 374.52,209.75 375.04,209.42 375.56,209.07 376.06,208.70 376.55,208.32 377.03,207.92 377.50,207.51 377.95,207.08 378.40,206.63 378.83,206.18 379.25,205.71 379.67,205.23 380.07,204.73 380.46,204.23 380.84,203.71 381.21,203.18 381.58,202.65 381.93,202.10 382.27,201.55 382.61,200.98 382.93,200.41 383.25,199.83 383.56,199.25 383.86,198.65 384.16,198.05 384.44,197.45 384.72,196.84 384.99,196.23 385.26,195.62 385.51,195.00 385.76,194.37 386.01,193.75 386.24,193.13 386.48,192.50 386.70,191.87 386.92,191.24 387.14,190.62 387.35,189.99 387.55,189.37 387.75,188.74 387.95,188.12 388.14,187.51 388.32,186.89 388.51,186.29 388.68,185.68 388.86,185.08 389.03,184.49 389.20,183.90Z" fill="none" stroke="#8000ff" stroke-width="3.5" stroke-linejoin="round" stroke-linecap="round"/><rect x="402.40" y="189.0" width="58.10" height="55" fill="#fff" fill-opacity="0.6"/><rect x="414.70" y="197.30" width="9" height="3.6" fill="#8000ff"/><text transform="translate(437.40,203.90) scale(0.95,1.05)" font-size="13.3" text-anchor="start" font-weight="normal" >100</text><rect x="414.70" y="213.30" width="9" height="3.6" fill="#008000"/><text transform="translate(437.40,219.90) scale(0.95,1.05)" font-size="13.3" text-anchor="start" font-weight="normal" >200</text><rect x="414.70" y="229.30" width="9" height="3.6" fill="#ff0000"/><text transform="translate(437.40,235.90) scale(0.95,1.05)" font-size="13.3" text-anchor="start" font-weight="normal" >400</text><path d="M264.5,147.5 H471.4 V250.5 H264.5 Z" fill="none" stroke="#000" stroke-width="1"/><line x1="264.5" y1="247.00" x2="266.8" y2="247.00" stroke="#000" stroke-width="1"/><line x1="471.4" y1="247.00" x2="469.09999999999997" y2="247.00" stroke="#000" stroke-width="1"/><line x1="264.5" y1="239.00" x2="266.8" y2="239.00" stroke="#000" stroke-width="1"/><line x1="471.4" y1="239.00" x2="469.09999999999997" y2="239.00" stroke="#000" stroke-width="1"/><line x1="264.5" y1="231.00" x2="269.1" y2="231.00" stroke="#000" stroke-width="1"/><line x1="471.4" y1="231.00" x2="466.79999999999995" y2="231.00" stroke="#000" stroke-width="1"/><line x1="264.5" y1="223.00" x2="266.8" y2="223.00" stroke="#000" stroke-width="1"/><line x1="471.4" y1="223.00" x2="469.09999999999997" y2="223.00" stroke="#000" stroke-width="1"/><line x1="264.5" y1="215.00" x2="266.8" y2="215.00" stroke="#000" stroke-width="1"/><line x1="471.4" y1="215.00" x2="469.09999999999997" y2="215.00" stroke="#000" stroke-width="1"/><line x1="264.5" y1="207.00" x2="266.8" y2="207.00" stroke="#000" stroke-width="1"/><line x1="471.4" y1="207.00" x2="469.09999999999997" y2="207.00" stroke="#000" stroke-width="1"/><line x1="264.5" y1="199.00" x2="269.1" y2="199.00" stroke="#000" stroke-width="1"/><line x1="471.4" y1="199.00" x2="466.79999999999995" y2="199.00" stroke="#000" stroke-width="1"/><line x1="264.5" y1="191.00" x2="266.8" y2="191.00" stroke="#000" stroke-width="1"/><line x1="471.4" y1="191.00" x2="469.09999999999997" y2="191.00" stroke="#000" stroke-width="1"/><line x1="264.5" y1="183.00" x2="266.8" y2="183.00" stroke="#000" stroke-width="1"/><line x1="471.4" y1="183.00" x2="469.09999999999997" y2="183.00" stroke="#000" stroke-width="1"/><line x1="264.5" y1="175.00" x2="266.8" y2="175.00" stroke="#000" stroke-width="1"/><line x1="471.4" y1="175.00" x2="469.09999999999997" y2="175.00" stroke="#000" stroke-width="1"/><line x1="264.5" y1="167.00" x2="269.1" y2="167.00" stroke="#000" stroke-width="1"/><line x1="471.4" y1="167.00" x2="466.79999999999995" y2="167.00" stroke="#000" stroke-width="1"/><line x1="264.5" y1="159.00" x2="266.8" y2="159.00" stroke="#000" stroke-width="1"/><line x1="471.4" y1="159.00" x2="469.09999999999997" y2="159.00" stroke="#000" stroke-width="1"/><line x1="264.5" y1="151.00" x2="266.8" y2="151.00" stroke="#000" stroke-width="1"/><line x1="471.4" y1="151.00" x2="469.09999999999997" y2="151.00" stroke="#000" stroke-width="1"/><line x1="281.79" y1="250.5" x2="281.79" y2="248.2" stroke="#000" stroke-width="1"/><line x1="303.34" y1="250.5" x2="303.34" y2="245.9" stroke="#000" stroke-width="1"/><line x1="324.90" y1="250.5" x2="324.90" y2="248.2" stroke="#000" stroke-width="1"/><line x1="346.45" y1="250.5" x2="346.45" y2="248.2" stroke="#000" stroke-width="1"/><line x1="389.55" y1="250.5" x2="389.55" y2="248.2" stroke="#000" stroke-width="1"/><line x1="411.10" y1="250.5" x2="411.10" y2="248.2" stroke="#000" stroke-width="1"/><line x1="432.66" y1="250.5" x2="432.66" y2="245.9" stroke="#000" stroke-width="1"/><line x1="454.21" y1="250.5" x2="454.21" y2="248.2" stroke="#000" stroke-width="1"/><text x="303.34" y="267.50" font-size="15.0" text-anchor="middle" font-weight="normal" >-300</text><text x="368.00" y="267.50" font-size="15.0" text-anchor="middle" font-weight="normal" >0</text><text x="432.66" y="267.50" font-size="15.0" text-anchor="middle" font-weight="normal" >300</text><text x="367.95" y="285.70" font-size="16.6" text-anchor="middle"><tspan font-style="italic">E</tspan> (kV/cm)</text><text x="275.00" y="168.70" font-size="18.5" text-anchor="start" font-weight="bold" >e</text><text x="286.50" y="192.30" font-size="13.5" text-anchor="start" font-weight="bold" >500 Hz</text></g><g><line x1="477.0" y1="199.0" x2="684.5" y2="199.0" stroke="#333" stroke-width="1"/><line x1="580.5" y1="147.5" x2="580.5" y2="250.5" stroke="#333" stroke-width="1"/><path d="M665.00,167.60 662.78,167.48 660.56,167.38 658.34,167.32 656.13,167.28 653.92,167.26 651.71,167.27 649.51,167.31 647.30,167.36 645.10,167.43 642.90,167.52 640.70,167.62 638.50,167.73 636.30,167.85 634.11,167.99 631.91,168.13 629.71,168.27 627.51,168.42 625.31,168.58 623.11,168.73 620.91,168.88 618.70,169.02 616.50,169.16 614.29,169.30 612.08,169.42 609.86,169.54 607.65,169.64 605.43,169.72 603.21,169.81 600.98,169.89 598.77,169.99 596.55,170.12 594.35,170.29 592.15,170.52 589.97,170.80 587.80,171.17 585.65,171.62 583.52,172.17 581.42,172.83 579.39,173.63 577.42,174.57 575.56,175.68 573.81,176.97 572.18,178.42 570.65,180.01 569.23,181.73 567.90,183.53 566.66,185.41 565.50,187.34 564.41,189.30 563.38,191.27 562.41,193.25 561.47,195.24 560.57,197.25 559.67,199.26 558.78,201.27 557.89,203.29 556.97,205.30 556.01,207.32 555.02,209.32 553.95,211.29 552.78,213.18 551.49,214.96 550.05,216.58 548.46,218.03 546.74,219.30 544.90,220.39 542.95,221.31 540.92,222.09 538.81,222.74 536.65,223.28 534.43,223.74 532.19,224.13 529.93,224.47 527.68,224.79 525.43,225.09 523.21,225.41 521.02,225.74 518.85,226.09 516.69,226.44 514.55,226.80 512.42,227.17 510.29,227.54 508.15,227.91 506.01,228.28 503.85,228.64 501.68,229.00 499.48,229.34 497.26,229.68 495.00,230.00 497.22,229.86 499.44,229.73 501.65,229.59 503.87,229.46 506.08,229.33 508.30,229.20 510.51,229.07 512.73,228.94 514.94,228.82 517.16,228.69 519.37,228.57 521.58,228.45 523.80,228.34 526.01,228.22 528.23,228.11 530.44,228.00 532.66,227.89 534.88,227.79 537.10,227.69 539.32,227.59 541.54,227.49 543.76,227.40 545.98,227.32 548.21,227.23 550.43,227.15 552.66,227.07 554.89,227.00 557.12,226.93 559.35,226.85 561.58,226.75 563.80,226.63 566.01,226.47 568.21,226.26 570.40,226.01 572.58,225.69 574.73,225.29 576.87,224.82 578.99,224.25 581.08,223.59 583.14,222.82 585.18,221.93 587.18,220.91 589.15,219.77 591.05,218.52 592.87,217.18 594.60,215.77 596.21,214.29 597.70,212.73 599.04,211.06 600.25,209.25 601.34,207.32 602.33,205.31 603.26,203.25 604.15,201.17 605.03,199.11 605.93,197.08 606.84,195.09 607.75,193.11 608.65,191.12 609.53,189.10 610.39,187.04 611.20,184.92 611.97,182.73 612.79,180.55 613.84,178.61 615.26,177.05 617.00,175.85 618.97,174.93 621.08,174.21 623.23,173.61 625.40,173.11 627.58,172.69 629.78,172.34 631.99,172.04 634.20,171.78 636.42,171.56 638.64,171.35 640.86,171.14 643.08,170.92 645.29,170.68 647.49,170.41 649.68,170.10 651.87,169.78 654.06,169.43 656.24,169.07 658.42,168.70 660.61,168.33 662.80,167.96 665.00,167.60Z" fill="none" stroke="#ff0000" stroke-width="3.5" stroke-linejoin="round" stroke-linecap="round"/><path d="M632.40,170.20 630.87,170.22 629.36,170.26 627.86,170.34 626.37,170.43 624.88,170.54 623.40,170.66 621.93,170.80 620.46,170.95 619.00,171.10 617.53,171.25 616.07,171.40 614.60,171.55 613.13,171.69 611.65,171.81 610.17,171.93 608.68,172.02 607.18,172.10 605.67,172.15 604.15,172.18 602.63,172.21 601.10,172.22 599.57,172.24 598.05,172.27 596.52,172.32 595.01,172.39 593.50,172.49 592.01,172.63 590.53,172.81 589.06,173.05 587.62,173.34 586.20,173.70 584.80,174.13 583.43,174.64 582.09,175.22 580.78,175.88 579.50,176.60 578.26,177.39 577.05,178.24 575.88,179.15 574.74,180.12 573.65,181.13 572.59,182.20 571.59,183.32 570.62,184.47 569.70,185.67 568.83,186.91 568.01,188.18 567.25,189.48 566.53,190.81 565.87,192.16 565.27,193.54 564.72,194.93 564.24,196.34 563.79,197.75 563.35,199.16 562.89,200.56 562.39,201.94 561.86,203.31 561.31,204.68 560.74,206.06 560.18,207.46 559.62,208.88 559.05,210.31 558.46,211.74 557.84,213.14 557.18,214.51 556.47,215.83 555.68,217.09 554.83,218.26 553.88,219.33 552.83,220.30 551.70,221.17 550.48,221.95 549.19,222.63 547.84,223.24 546.43,223.78 544.98,224.25 543.49,224.67 541.97,225.03 540.44,225.36 538.89,225.65 537.34,225.91 535.80,226.15 534.28,226.38 532.78,226.61 531.31,226.83 529.89,227.07 528.51,227.32 527.20,227.60 528.72,227.47 530.24,227.35 531.75,227.24 533.27,227.14 534.78,227.05 536.29,226.96 537.79,226.87 539.30,226.79 540.80,226.71 542.31,226.63 543.81,226.55 545.31,226.47 546.81,226.39 548.30,226.31 549.80,226.22 551.30,226.12 552.79,226.02 554.29,225.91 555.78,225.79 557.28,225.66 558.77,225.52 560.27,225.37 561.77,225.21 563.26,225.03 564.76,224.83 566.26,224.62 567.76,224.39 569.26,224.15 570.76,223.88 572.26,223.59 573.77,223.28 575.27,222.94 576.78,222.58 578.28,222.19 579.77,221.77 581.24,221.30 582.68,220.79 584.10,220.22 585.47,219.60 586.80,218.91 588.08,218.16 589.30,217.33 590.45,216.42 591.55,215.44 592.58,214.39 593.56,213.28 594.49,212.11 595.36,210.88 596.19,209.61 596.97,208.31 597.71,206.96 598.42,205.59 599.09,204.20 599.73,202.80 600.34,201.38 600.93,199.96 601.50,198.53 602.05,197.12 602.58,195.71 603.10,194.30 603.60,192.89 604.10,191.47 604.58,190.05 605.07,188.63 605.54,187.19 606.02,185.75 606.49,184.29 606.97,182.81 607.47,181.34 608.00,179.89 608.58,178.49 609.24,177.16 610.00,175.94 610.87,174.84 611.88,173.90 613.03,173.12 614.30,172.48 615.69,171.98 617.16,171.59 618.69,171.31 620.28,171.10 621.90,170.95 623.52,170.85 625.14,170.77 626.73,170.71 628.27,170.63 629.74,170.54 631.12,170.40 632.40,170.20Z" fill="none" stroke="#008000" stroke-width="3.5" stroke-linejoin="round" stroke-linecap="round"/><path d="M606.20,176.60 605.42,176.17 604.63,175.82 603.82,175.56 602.99,175.36 602.15,175.23 601.29,175.15 600.42,175.11 599.54,175.12 598.65,175.15 597.75,175.19 596.84,175.25 595.93,175.32 595.01,175.38 594.08,175.43 593.16,175.49 592.24,175.56 591.31,175.63 590.40,175.72 589.48,175.82 588.58,175.94 587.69,176.08 586.80,176.26 585.93,176.46 585.08,176.69 584.24,176.96 583.42,177.27 582.62,177.62 581.83,178.00 581.06,178.41 580.31,178.85 579.58,179.33 578.87,179.83 578.18,180.36 577.50,180.92 576.84,181.51 576.20,182.11 575.58,182.74 574.98,183.39 574.40,184.06 573.84,184.75 573.29,185.46 572.77,186.18 572.26,186.91 571.78,187.66 571.31,188.42 570.87,189.19 570.44,189.97 570.03,190.76 569.64,191.56 569.26,192.36 568.89,193.18 568.54,194.00 568.20,194.82 567.87,195.65 567.55,196.49 567.24,197.33 566.93,198.17 566.63,199.02 566.34,199.87 566.05,200.72 565.76,201.57 565.47,202.42 565.19,203.28 564.90,204.13 564.61,204.98 564.32,205.83 564.03,206.67 563.72,207.52 563.42,208.35 563.10,209.19 562.78,210.02 562.45,210.84 562.10,211.66 561.75,212.47 561.38,213.28 560.99,214.07 560.60,214.86 560.18,215.64 559.75,216.40 559.30,217.16 558.82,217.91 558.33,218.64 557.82,219.36 557.28,220.07 556.72,220.77 556.13,221.45 555.51,222.11 554.87,222.77 554.20,223.40 555.03,223.21 555.86,223.04 556.70,222.88 557.55,222.73 558.41,222.60 559.27,222.47 560.14,222.35 561.01,222.24 561.89,222.14 562.77,222.04 563.65,221.94 564.53,221.85 565.42,221.76 566.31,221.66 567.20,221.56 568.08,221.46 568.97,221.36 569.85,221.25 570.74,221.13 571.62,221.00 572.50,220.87 573.37,220.72 574.24,220.56 575.10,220.39 575.96,220.20 576.81,219.99 577.66,219.76 578.50,219.52 579.33,219.26 580.15,218.97 580.96,218.66 581.77,218.33 582.56,217.97 583.34,217.59 584.11,217.19 584.86,216.76 585.60,216.31 586.32,215.84 587.03,215.34 587.72,214.82 588.39,214.28 589.05,213.71 589.68,213.12 590.29,212.51 590.88,211.88 591.44,211.22 591.99,210.54 592.51,209.84 593.00,209.12 593.47,208.37 593.91,207.61 594.34,206.83 594.74,206.04 595.13,205.23 595.50,204.42 595.85,203.59 596.20,202.76 596.53,201.93 596.85,201.10 597.16,200.26 597.47,199.43 597.76,198.60 598.06,197.77 598.35,196.95 598.64,196.14 598.93,195.33 599.22,194.51 599.51,193.70 599.80,192.90 600.09,192.08 600.38,191.27 600.68,190.46 600.98,189.64 601.28,188.82 601.59,188.00 601.90,187.18 602.22,186.36 602.54,185.53 602.86,184.71 603.18,183.89 603.51,183.07 603.83,182.25 604.17,181.44 604.50,180.62 604.84,179.81 605.17,179.00 605.51,178.20 605.86,177.40 606.20,176.60Z" fill="none" stroke="#8000ff" stroke-width="3.5" stroke-linejoin="round" stroke-linecap="round"/><rect x="616.60" y="189.0" width="54.50" height="55" fill="#fff" fill-opacity="0.6"/><rect x="628.90" y="197.30" width="9" height="3.6" fill="#8000ff"/><text transform="translate(648.60,203.90) scale(0.95,1.05)" font-size="13.3" text-anchor="start" font-weight="normal" >150</text><rect x="628.90" y="213.30" width="9" height="3.6" fill="#008000"/><text transform="translate(648.60,219.90) scale(0.95,1.05)" font-size="13.3" text-anchor="start" font-weight="normal" >300</text><rect x="628.90" y="229.30" width="9" height="3.6" fill="#ff0000"/><text transform="translate(648.60,235.90) scale(0.95,1.05)" font-size="13.3" text-anchor="start" font-weight="normal" >500</text><path d="M477.0,147.5 H684.5 V250.5 H477.0 Z" fill="none" stroke="#000" stroke-width="1"/><line x1="477.0" y1="247.00" x2="479.3" y2="247.00" stroke="#000" stroke-width="1"/><line x1="684.5" y1="247.00" x2="682.2" y2="247.00" stroke="#000" stroke-width="1"/><line x1="477.0" y1="239.00" x2="479.3" y2="239.00" stroke="#000" stroke-width="1"/><line x1="684.5" y1="239.00" x2="682.2" y2="239.00" stroke="#000" stroke-width="1"/><line x1="477.0" y1="231.00" x2="481.6" y2="231.00" stroke="#000" stroke-width="1"/><line x1="684.5" y1="231.00" x2="679.9" y2="231.00" stroke="#000" stroke-width="1"/><line x1="477.0" y1="223.00" x2="479.3" y2="223.00" stroke="#000" stroke-width="1"/><line x1="684.5" y1="223.00" x2="682.2" y2="223.00" stroke="#000" stroke-width="1"/><line x1="477.0" y1="215.00" x2="479.3" y2="215.00" stroke="#000" stroke-width="1"/><line x1="684.5" y1="215.00" x2="682.2" y2="215.00" stroke="#000" stroke-width="1"/><line x1="477.0" y1="207.00" x2="479.3" y2="207.00" stroke="#000" stroke-width="1"/><line x1="684.5" y1="207.00" x2="682.2" y2="207.00" stroke="#000" stroke-width="1"/><line x1="477.0" y1="199.00" x2="481.6" y2="199.00" stroke="#000" stroke-width="1"/><line x1="684.5" y1="199.00" x2="679.9" y2="199.00" stroke="#000" stroke-width="1"/><line x1="477.0" y1="191.00" x2="479.3" y2="191.00" stroke="#000" stroke-width="1"/><line x1="684.5" y1="191.00" x2="682.2" y2="191.00" stroke="#000" stroke-width="1"/><line x1="477.0" y1="183.00" x2="479.3" y2="183.00" stroke="#000" stroke-width="1"/><line x1="684.5" y1="183.00" x2="682.2" y2="183.00" stroke="#000" stroke-width="1"/><line x1="477.0" y1="175.00" x2="479.3" y2="175.00" stroke="#000" stroke-width="1"/><line x1="684.5" y1="175.00" x2="682.2" y2="175.00" stroke="#000" stroke-width="1"/><line x1="477.0" y1="167.00" x2="481.6" y2="167.00" stroke="#000" stroke-width="1"/><line x1="684.5" y1="167.00" x2="679.9" y2="167.00" stroke="#000" stroke-width="1"/><line x1="477.0" y1="159.00" x2="479.3" y2="159.00" stroke="#000" stroke-width="1"/><line x1="684.5" y1="159.00" x2="682.2" y2="159.00" stroke="#000" stroke-width="1"/><line x1="477.0" y1="151.00" x2="479.3" y2="151.00" stroke="#000" stroke-width="1"/><line x1="684.5" y1="151.00" x2="682.2" y2="151.00" stroke="#000" stroke-width="1"/><line x1="494.04" y1="250.5" x2="494.04" y2="248.2" stroke="#000" stroke-width="1"/><line x1="511.33" y1="250.5" x2="511.33" y2="245.9" stroke="#000" stroke-width="1"/><line x1="528.62" y1="250.5" x2="528.62" y2="248.2" stroke="#000" stroke-width="1"/><line x1="545.92" y1="250.5" x2="545.92" y2="248.2" stroke="#000" stroke-width="1"/><line x1="563.21" y1="250.5" x2="563.21" y2="248.2" stroke="#000" stroke-width="1"/><line x1="597.79" y1="250.5" x2="597.79" y2="248.2" stroke="#000" stroke-width="1"/><line x1="615.08" y1="250.5" x2="615.08" y2="248.2" stroke="#000" stroke-width="1"/><line x1="632.38" y1="250.5" x2="632.38" y2="248.2" stroke="#000" stroke-width="1"/><line x1="649.67" y1="250.5" x2="649.67" y2="245.9" stroke="#000" stroke-width="1"/><line x1="666.96" y1="250.5" x2="666.96" y2="248.2" stroke="#000" stroke-width="1"/><line x1="684.25" y1="250.5" x2="684.25" y2="248.2" stroke="#000" stroke-width="1"/><text x="511.33" y="267.50" font-size="15.0" text-anchor="middle" font-weight="normal" >-400</text><text x="580.50" y="267.50" font-size="15.0" text-anchor="middle" font-weight="normal" >0</text><text x="649.67" y="267.50" font-size="15.0" text-anchor="middle" font-weight="normal" >400</text><text x="580.75" y="285.70" font-size="16.6" text-anchor="middle"><tspan font-style="italic">E</tspan> (kV/cm)</text><text x="487.50" y="168.70" font-size="18.5" text-anchor="start" font-weight="bold" >f</text><text x="503.80" y="192.30" font-size="13.5" text-anchor="start" font-weight="bold" >1 kHz</text></g><g><line x1="52.0" y1="345.5" x2="259.5" y2="345.5" stroke="#333" stroke-width="1"/><line x1="155.5" y1="294.0" x2="155.5" y2="397.5" stroke="#333" stroke-width="1"/><path d="M239.30,313.30 237.08,313.19 234.86,313.11 232.64,313.06 230.43,313.03 228.22,313.03 226.02,313.05 223.82,313.10 221.62,313.16 219.42,313.24 217.22,313.34 215.03,313.45 212.84,313.58 210.64,313.72 208.45,313.86 206.26,314.02 204.07,314.18 201.87,314.35 199.68,314.52 197.48,314.69 195.28,314.86 193.08,315.03 190.88,315.20 188.67,315.36 186.46,315.51 184.25,315.66 182.03,315.79 179.81,315.92 177.59,316.04 175.36,316.17 173.15,316.32 170.93,316.50 168.73,316.71 166.54,316.98 164.36,317.30 162.19,317.69 160.05,318.15 157.93,318.71 155.85,319.38 153.83,320.20 151.92,321.22 150.14,322.46 148.47,323.87 146.90,325.41 145.43,327.04 144.04,328.76 142.75,330.55 141.53,332.41 140.40,334.33 139.34,336.29 138.36,338.30 137.45,340.35 136.59,342.41 135.77,344.49 134.97,346.57 134.18,348.65 133.37,350.72 132.53,352.76 131.64,354.77 130.69,356.74 129.66,358.66 128.52,360.52 127.27,362.31 125.88,363.96 124.30,365.42 122.54,366.65 120.65,367.70 118.65,368.57 116.58,369.30 114.45,369.89 112.28,370.39 110.07,370.80 107.84,371.15 105.59,371.47 103.36,371.77 101.13,372.07 98.93,372.40 96.75,372.75 94.59,373.12 92.44,373.51 90.30,373.90 88.17,374.30 86.04,374.71 83.90,375.12 81.76,375.53 79.61,375.93 77.44,376.32 75.25,376.70 73.04,377.06 70.80,377.40 73.04,377.42 75.27,377.43 77.50,377.43 79.72,377.42 81.93,377.40 84.15,377.37 86.35,377.33 88.56,377.27 90.76,377.21 92.96,377.13 95.15,377.04 97.35,376.95 99.54,376.84 101.73,376.73 103.92,376.60 106.11,376.46 108.30,376.31 110.48,376.16 112.67,375.99 114.86,375.81 117.05,375.63 119.24,375.43 121.43,375.22 123.62,375.01 125.82,374.78 128.02,374.55 130.22,374.31 132.42,374.05 134.63,373.79 136.84,373.52 139.06,373.24 141.28,372.95 143.51,372.66 145.74,372.35 147.97,372.03 150.19,371.68 152.39,371.27 154.56,370.80 156.68,370.24 158.75,369.57 160.75,368.78 162.67,367.85 164.50,366.75 166.23,365.49 167.86,364.07 169.40,362.50 170.83,360.82 172.18,359.02 173.43,357.15 174.59,355.20 175.66,353.20 176.65,351.17 177.56,349.12 178.40,347.06 179.20,344.99 179.98,342.91 180.74,340.84 181.51,338.76 182.30,336.70 183.14,334.65 184.03,332.62 185.01,330.62 186.08,328.66 187.27,326.81 188.59,325.10 190.08,323.58 191.74,322.30 193.57,321.26 195.55,320.43 197.64,319.77 199.81,319.24 202.03,318.81 204.27,318.43 206.50,318.08 208.72,317.75 210.93,317.43 213.13,317.11 215.32,316.79 217.50,316.45 219.67,316.10 221.84,315.74 224.00,315.38 226.16,315.02 228.33,314.68 230.50,314.35 232.68,314.04 234.87,313.76 237.08,313.51 239.30,313.30Z" fill="none" stroke="#ff0000" stroke-width="3.5" stroke-linejoin="round" stroke-linecap="round"/><path d="M195.00,317.70 193.78,317.83 192.56,317.95 191.34,318.06 190.12,318.15 188.90,318.24 187.68,318.31 186.46,318.38 185.24,318.45 184.02,318.51 182.80,318.57 181.58,318.63 180.36,318.69 179.14,318.75 177.92,318.82 176.71,318.89 175.49,318.96 174.27,319.05 173.05,319.14 171.83,319.25 170.61,319.36 169.39,319.50 168.17,319.64 166.95,319.80 165.73,319.98 164.51,320.18 163.29,320.40 162.07,320.65 160.87,320.93 159.68,321.25 158.51,321.62 157.37,322.03 156.26,322.50 155.19,323.03 154.16,323.63 153.17,324.28 152.21,324.99 151.30,325.76 150.42,326.58 149.58,327.44 148.78,328.35 148.00,329.29 147.27,330.28 146.57,331.29 145.90,332.34 145.26,333.41 144.65,334.51 144.08,335.63 143.53,336.76 143.01,337.90 142.52,339.05 142.06,340.21 141.62,341.38 141.20,342.55 140.79,343.72 140.40,344.90 140.02,346.07 139.65,347.25 139.28,348.43 138.92,349.60 138.55,350.77 138.18,351.93 137.81,353.09 137.42,354.24 137.02,355.39 136.60,356.52 136.16,357.64 135.70,358.75 135.22,359.85 134.70,360.94 134.16,362.00 133.58,363.05 132.96,364.09 132.30,365.10 131.60,366.09 130.85,367.05 130.04,367.95 129.18,368.79 128.25,369.55 127.26,370.22 126.19,370.79 125.05,371.24 123.83,371.57 122.52,371.75 121.13,371.80 119.74,371.82 118.39,371.89 117.16,372.11 116.11,372.58 115.30,373.40 116.50,373.20 117.70,373.02 118.91,372.86 120.13,372.71 121.36,372.59 122.58,372.48 123.82,372.38 125.05,372.29 126.29,372.21 127.54,372.14 128.78,372.07 130.03,372.01 131.28,371.94 132.52,371.88 133.77,371.82 135.02,371.75 136.27,371.67 137.51,371.59 138.76,371.50 140.00,371.39 141.23,371.27 142.47,371.14 143.69,370.99 144.92,370.82 146.14,370.63 147.35,370.41 148.55,370.17 149.75,369.91 150.94,369.62 152.12,369.29 153.30,368.94 154.46,368.54 155.61,368.12 156.76,367.66 157.88,367.15 158.99,366.61 160.08,366.03 161.15,365.41 162.19,364.76 163.20,364.06 164.17,363.31 165.11,362.53 166.00,361.71 166.86,360.84 167.67,359.93 168.42,358.97 169.13,357.97 169.77,356.93 170.36,355.84 170.90,354.71 171.40,353.56 171.86,352.38 172.29,351.19 172.70,349.99 173.10,348.79 173.48,347.60 173.86,346.40 174.23,345.21 174.60,344.02 174.96,342.83 175.32,341.64 175.69,340.46 176.05,339.28 176.41,338.10 176.79,336.93 177.16,335.76 177.55,334.60 177.95,333.44 178.36,332.28 178.79,331.13 179.23,329.99 179.69,328.85 180.16,327.72 180.66,326.59 181.18,325.47 181.73,324.36 182.31,323.27 182.94,322.21 183.63,321.22 184.41,320.33 185.29,319.55 186.29,318.92 187.42,318.47 188.71,318.20 190.09,318.09 191.50,318.06 192.84,318.03 194.03,317.94 195.00,317.70Z" fill="none" stroke="#008000" stroke-width="3.5" stroke-linejoin="round" stroke-linecap="round"/><path d="M174.60,326.40 174.02,325.97 173.42,325.59 172.80,325.28 172.17,325.02 171.51,324.81 170.85,324.65 170.17,324.53 169.48,324.46 168.78,324.43 168.07,324.43 167.36,324.47 166.64,324.54 165.92,324.64 165.19,324.76 164.47,324.90 163.74,325.06 163.02,325.24 162.30,325.42 161.59,325.62 160.89,325.83 160.19,326.06 159.50,326.30 158.82,326.55 158.15,326.82 157.49,327.11 156.85,327.42 156.21,327.76 155.59,328.11 154.98,328.49 154.39,328.89 153.82,329.32 153.26,329.76 152.71,330.22 152.19,330.71 151.68,331.20 151.20,331.72 150.73,332.25 150.28,332.79 149.85,333.35 149.44,333.92 149.04,334.50 148.66,335.09 148.30,335.70 147.95,336.31 147.61,336.94 147.29,337.57 146.97,338.21 146.67,338.86 146.38,339.52 146.10,340.19 145.83,340.86 145.57,341.53 145.31,342.21 145.07,342.90 144.83,343.59 144.59,344.28 144.36,344.98 144.13,345.67 143.91,346.37 143.69,347.07 143.47,347.77 143.25,348.47 143.03,349.17 142.81,349.86 142.60,350.55 142.38,351.24 142.15,351.93 141.93,352.61 141.70,353.29 141.46,353.96 141.22,354.63 140.98,355.29 140.73,355.95 140.47,356.61 140.22,357.26 139.95,357.91 139.68,358.56 139.41,359.20 139.13,359.85 138.85,360.50 138.57,361.14 138.27,361.79 137.98,362.44 137.68,363.09 137.37,363.75 137.06,364.40 136.74,365.07 136.42,365.73 136.10,366.40 136.77,366.37 137.45,366.34 138.14,366.31 138.83,366.28 139.53,366.25 140.24,366.22 140.95,366.18 141.67,366.14 142.39,366.10 143.12,366.05 143.84,366.00 144.57,365.94 145.30,365.87 146.02,365.79 146.75,365.70 147.47,365.60 148.20,365.50 148.91,365.38 149.63,365.24 150.34,365.10 151.04,364.94 151.74,364.76 152.43,364.57 153.11,364.36 153.78,364.14 154.44,363.90 155.10,363.63 155.74,363.35 156.37,363.05 156.98,362.73 157.59,362.38 158.18,362.02 158.76,361.64 159.33,361.25 159.89,360.83 160.43,360.40 160.96,359.95 161.47,359.49 161.97,359.01 162.46,358.52 162.93,358.01 163.39,357.49 163.84,356.95 164.27,356.40 164.68,355.84 165.08,355.27 165.47,354.69 165.84,354.09 166.20,353.49 166.54,352.87 166.87,352.25 167.19,351.61 167.50,350.97 167.80,350.32 168.09,349.67 168.37,349.01 168.64,348.34 168.90,347.67 169.15,346.99 169.40,346.31 169.64,345.62 169.87,344.93 170.09,344.24 170.31,343.55 170.53,342.85 170.74,342.16 170.94,341.46 171.14,340.76 171.34,340.07 171.54,339.38 171.73,338.69 171.93,338.00 172.12,337.31 172.30,336.62 172.49,335.94 172.67,335.25 172.85,334.57 173.02,333.89 173.19,333.21 173.36,332.53 173.52,331.85 173.67,331.17 173.82,330.49 173.97,329.81 174.11,329.13 174.24,328.45 174.37,327.77 174.49,327.08 174.60,326.40Z" fill="none" stroke="#8000ff" stroke-width="3.5" stroke-linejoin="round" stroke-linecap="round"/><rect x="191.60" y="335.5" width="54.50" height="55" fill="#fff" fill-opacity="0.6"/><rect x="203.90" y="344.50" width="9" height="3.6" fill="#8000ff"/><text transform="translate(223.20,351.10) scale(0.95,1.05)" font-size="13.3" text-anchor="start" font-weight="normal" >150</text><rect x="203.90" y="360.50" width="9" height="3.6" fill="#008000"/><text transform="translate(223.20,367.10) scale(0.95,1.05)" font-size="13.3" text-anchor="start" font-weight="normal" >300</text><rect x="203.90" y="376.50" width="9" height="3.6" fill="#ff0000"/><text transform="translate(223.20,383.10) scale(0.95,1.05)" font-size="13.3" text-anchor="start" font-weight="normal" >600</text><path d="M52.0,294.0 H259.5 V397.5 H52.0 Z" fill="none" stroke="#000" stroke-width="1"/><line x1="52.0" y1="393.50" x2="54.3" y2="393.50" stroke="#000" stroke-width="1"/><line x1="259.5" y1="393.50" x2="257.2" y2="393.50" stroke="#000" stroke-width="1"/><line x1="52.0" y1="385.50" x2="54.3" y2="385.50" stroke="#000" stroke-width="1"/><line x1="259.5" y1="385.50" x2="257.2" y2="385.50" stroke="#000" stroke-width="1"/><line x1="52.0" y1="377.50" x2="56.6" y2="377.50" stroke="#000" stroke-width="1"/><line x1="259.5" y1="377.50" x2="254.9" y2="377.50" stroke="#000" stroke-width="1"/><line x1="52.0" y1="369.50" x2="54.3" y2="369.50" stroke="#000" stroke-width="1"/><line x1="259.5" y1="369.50" x2="257.2" y2="369.50" stroke="#000" stroke-width="1"/><line x1="52.0" y1="361.50" x2="54.3" y2="361.50" stroke="#000" stroke-width="1"/><line x1="259.5" y1="361.50" x2="257.2" y2="361.50" stroke="#000" stroke-width="1"/><line x1="52.0" y1="353.50" x2="54.3" y2="353.50" stroke="#000" stroke-width="1"/><line x1="259.5" y1="353.50" x2="257.2" y2="353.50" stroke="#000" stroke-width="1"/><line x1="52.0" y1="345.50" x2="56.6" y2="345.50" stroke="#000" stroke-width="1"/><line x1="259.5" y1="345.50" x2="254.9" y2="345.50" stroke="#000" stroke-width="1"/><line x1="52.0" y1="337.50" x2="54.3" y2="337.50" stroke="#000" stroke-width="1"/><line x1="259.5" y1="337.50" x2="257.2" y2="337.50" stroke="#000" stroke-width="1"/><line x1="52.0" y1="329.50" x2="54.3" y2="329.50" stroke="#000" stroke-width="1"/><line x1="259.5" y1="329.50" x2="257.2" y2="329.50" stroke="#000" stroke-width="1"/><line x1="52.0" y1="321.50" x2="54.3" y2="321.50" stroke="#000" stroke-width="1"/><line x1="259.5" y1="321.50" x2="257.2" y2="321.50" stroke="#000" stroke-width="1"/><line x1="52.0" y1="313.50" x2="56.6" y2="313.50" stroke="#000" stroke-width="1"/><line x1="259.5" y1="313.50" x2="254.9" y2="313.50" stroke="#000" stroke-width="1"/><line x1="52.0" y1="305.50" x2="54.3" y2="305.50" stroke="#000" stroke-width="1"/><line x1="259.5" y1="305.50" x2="257.2" y2="305.50" stroke="#000" stroke-width="1"/><line x1="52.0" y1="297.50" x2="54.3" y2="297.50" stroke="#000" stroke-width="1"/><line x1="259.5" y1="297.50" x2="257.2" y2="297.50" stroke="#000" stroke-width="1"/><line x1="62.39" y1="397.5" x2="62.39" y2="395.2" stroke="#000" stroke-width="1"/><line x1="75.69" y1="397.5" x2="75.69" y2="395.2" stroke="#000" stroke-width="1"/><line x1="88.99" y1="397.5" x2="88.99" y2="392.9" stroke="#000" stroke-width="1"/><line x1="102.29" y1="397.5" x2="102.29" y2="395.2" stroke="#000" stroke-width="1"/><line x1="115.60" y1="397.5" x2="115.60" y2="395.2" stroke="#000" stroke-width="1"/><line x1="128.90" y1="397.5" x2="128.90" y2="395.2" stroke="#000" stroke-width="1"/><line x1="142.20" y1="397.5" x2="142.20" y2="395.2" stroke="#000" stroke-width="1"/><line x1="168.80" y1="397.5" x2="168.80" y2="395.2" stroke="#000" stroke-width="1"/><line x1="182.10" y1="397.5" x2="182.10" y2="395.2" stroke="#000" stroke-width="1"/><line x1="195.40" y1="397.5" x2="195.40" y2="395.2" stroke="#000" stroke-width="1"/><line x1="208.71" y1="397.5" x2="208.71" y2="395.2" stroke="#000" stroke-width="1"/><line x1="222.01" y1="397.5" x2="222.01" y2="392.9" stroke="#000" stroke-width="1"/><line x1="235.31" y1="397.5" x2="235.31" y2="395.2" stroke="#000" stroke-width="1"/><line x1="248.61" y1="397.5" x2="248.61" y2="395.2" stroke="#000" stroke-width="1"/><text x="88.99" y="414.10" font-size="15.0" text-anchor="middle" font-weight="normal" >-500</text><text x="155.50" y="414.10" font-size="15.0" text-anchor="middle" font-weight="normal" >0</text><text x="222.01" y="414.10" font-size="15.0" text-anchor="middle" font-weight="normal" >500</text><text x="155.75" y="436.50" font-size="16.6" text-anchor="middle"><tspan font-style="italic">E</tspan> (kV/cm)</text><text x="62.50" y="317.50" font-size="18.5" text-anchor="start" font-weight="bold" >g</text><text x="84.10" y="338.80" font-size="13.5" text-anchor="start" font-weight="bold" >2 kHz</text><text x="46.70" y="317.40" font-size="15.5" text-anchor="end" font-weight="normal" >40</text><text x="46.70" y="349.40" font-size="15.5" text-anchor="end" font-weight="normal" >0</text><text x="46.70" y="381.40" font-size="15.5" text-anchor="end" font-weight="normal" >-40</text><text transform="translate(18.3,345.5) rotate(-90)" font-size="16.8" text-anchor="middle"><tspan font-style="italic">P</tspan> (&#956;C/cm<tspan font-size="10" dy="-6">2</tspan><tspan dy="6">)</tspan></text></g><g><line x1="264.5" y1="345.5" x2="471.4" y2="345.5" stroke="#333" stroke-width="1"/><line x1="368.0" y1="294.0" x2="368.0" y2="397.5" stroke="#333" stroke-width="1"/><path d="M451.20,313.00 449.01,312.87 446.82,312.77 444.63,312.70 442.44,312.66 440.25,312.65 438.05,312.67 435.86,312.71 433.66,312.78 431.47,312.87 429.28,312.98 427.09,313.11 424.90,313.26 422.71,313.42 420.52,313.60 418.34,313.78 416.16,313.98 413.99,314.19 411.81,314.40 409.64,314.61 407.46,314.82 405.29,315.02 403.11,315.21 400.93,315.39 398.74,315.55 396.54,315.69 394.33,315.80 392.11,315.88 389.88,315.95 387.66,316.01 385.43,316.09 383.21,316.19 381.00,316.34 378.80,316.54 376.63,316.83 374.47,317.20 372.35,317.67 370.26,318.27 368.22,319.00 366.23,319.85 364.30,320.83 362.45,321.94 360.69,323.18 359.03,324.55 357.45,326.05 355.97,327.65 354.57,329.35 353.26,331.13 352.01,332.97 350.83,334.87 349.72,336.81 348.66,338.78 347.65,340.76 346.67,342.75 345.73,344.75 344.80,346.74 343.87,348.74 342.94,350.72 341.99,352.69 341.01,354.64 339.99,356.57 338.92,358.46 337.78,360.32 336.57,362.13 335.25,363.84 333.78,365.39 332.13,366.70 330.29,367.78 328.32,368.66 326.25,369.39 324.13,370.01 321.97,370.54 319.79,371.01 317.59,371.42 315.39,371.80 313.19,372.16 311.00,372.51 308.83,372.88 306.67,373.25 304.53,373.64 302.39,374.02 300.26,374.41 298.13,374.80 296.00,375.19 293.86,375.58 291.72,375.96 289.56,376.34 287.39,376.70 285.21,377.06 283.00,377.40 285.17,377.21 287.34,377.04 289.51,376.88 291.69,376.74 293.87,376.61 296.05,376.49 298.24,376.38 300.43,376.28 302.62,376.18 304.81,376.09 307.01,376.01 309.20,375.92 311.40,375.84 313.59,375.76 315.78,375.67 317.98,375.58 320.17,375.49 322.36,375.39 324.55,375.28 326.74,375.17 328.92,375.04 331.11,374.90 333.28,374.75 335.46,374.58 337.63,374.39 339.80,374.19 341.96,373.97 344.12,373.73 346.27,373.47 348.42,373.18 350.56,372.87 352.70,372.55 354.85,372.22 357.01,371.90 359.18,371.58 361.36,371.27 363.57,370.98 365.78,370.66 367.95,370.25 370.07,369.69 372.13,368.97 374.12,368.11 376.04,367.10 377.89,365.97 379.66,364.72 381.37,363.36 383.00,361.90 384.55,360.35 386.03,358.73 387.43,357.04 388.74,355.29 389.98,353.49 391.15,351.64 392.25,349.76 393.30,347.84 394.30,345.89 395.26,343.91 396.19,341.91 397.10,339.90 398.01,337.89 398.93,335.89 399.88,333.90 400.86,331.94 401.89,330.01 402.97,328.12 404.14,326.29 405.40,324.52 406.81,322.93 408.47,321.64 410.37,320.68 412.42,319.95 414.53,319.34 416.66,318.82 418.81,318.38 420.97,317.99 423.14,317.66 425.32,317.37 427.51,317.10 429.71,316.86 431.90,316.62 434.09,316.38 436.28,316.12 438.46,315.84 440.62,315.52 442.78,315.16 444.92,314.73 447.03,314.24 449.13,313.67 451.20,313.00Z" fill="none" stroke="#ff0000" stroke-width="3.5" stroke-linejoin="round" stroke-linecap="round"/><path d="M410.70,317.30 409.40,317.25 408.11,317.23 406.82,317.24 405.54,317.27 404.26,317.33 402.98,317.42 401.71,317.52 400.43,317.63 399.17,317.77 397.90,317.91 396.63,318.06 395.37,318.22 394.10,318.38 392.83,318.54 391.57,318.70 390.30,318.86 389.03,319.00 387.76,319.14 386.49,319.27 385.21,319.38 383.93,319.48 382.65,319.55 381.36,319.60 380.07,319.64 378.78,319.68 377.50,319.74 376.22,319.84 374.96,320.00 373.71,320.24 372.48,320.58 371.28,321.01 370.11,321.54 368.96,322.14 367.86,322.82 366.80,323.55 365.78,324.32 364.80,325.15 363.85,326.01 362.95,326.91 362.08,327.84 361.24,328.81 360.43,329.80 359.65,330.82 358.89,331.86 358.16,332.91 357.45,333.98 356.75,335.07 356.07,336.16 355.40,337.25 354.75,338.35 354.10,339.45 353.47,340.54 352.84,341.64 352.23,342.75 351.62,343.86 351.03,344.97 350.45,346.10 349.89,347.23 349.34,348.37 348.80,349.52 348.27,350.69 347.76,351.87 347.27,353.07 346.79,354.29 346.32,355.52 345.85,356.75 345.39,357.98 344.91,359.21 344.42,360.42 343.91,361.62 343.37,362.79 342.80,363.93 342.19,365.04 341.54,366.10 340.83,367.11 340.07,368.07 339.24,368.96 338.33,369.77 337.35,370.48 336.28,371.08 335.12,371.57 333.86,371.92 332.49,372.12 331.03,372.19 329.54,372.21 328.11,372.27 326.81,372.48 325.71,372.93 324.90,373.70 326.20,373.56 327.49,373.42 328.78,373.28 330.06,373.13 331.34,372.98 332.61,372.84 333.88,372.69 335.15,372.54 336.42,372.40 337.69,372.26 338.96,372.12 340.23,371.98 341.50,371.85 342.78,371.72 344.06,371.60 345.35,371.48 346.65,371.37 347.95,371.26 349.26,371.17 350.58,371.07 351.89,370.97 353.21,370.87 354.53,370.76 355.85,370.64 357.16,370.51 358.47,370.36 359.77,370.19 361.06,370.00 362.34,369.78 363.60,369.54 364.85,369.26 366.08,368.94 367.30,368.59 368.49,368.19 369.66,367.76 370.81,367.27 371.93,366.73 373.02,366.14 374.08,365.49 375.11,364.78 376.11,364.01 377.08,363.19 378.01,362.32 378.92,361.40 379.79,360.44 380.63,359.44 381.44,358.40 382.22,357.34 382.97,356.25 383.69,355.13 384.38,354.00 385.03,352.85 385.66,351.70 386.26,350.54 386.84,349.37 387.39,348.19 387.92,347.01 388.42,345.83 388.92,344.64 389.39,343.45 389.86,342.25 390.31,341.05 390.76,339.85 391.20,338.65 391.64,337.45 392.08,336.25 392.51,335.05 392.96,333.85 393.41,332.66 393.87,331.46 394.34,330.27 394.82,329.08 395.32,327.90 395.84,326.72 396.37,325.54 396.93,324.37 397.52,323.22 398.17,322.11 398.87,321.07 399.67,320.13 400.58,319.32 401.61,318.67 402.80,318.21 404.13,317.94 405.55,317.82 406.99,317.77 408.38,317.72 409.64,317.58 410.70,317.30Z" fill="none" stroke="#008000" stroke-width="3.5" stroke-linejoin="round" stroke-linecap="round"/><path d="M389.50,326.80 388.99,326.12 388.43,325.51 387.85,324.96 387.23,324.48 386.59,324.06 385.93,323.70 385.24,323.39 384.53,323.14 383.81,322.94 383.08,322.79 382.33,322.69 381.58,322.63 380.82,322.62 380.07,322.65 379.31,322.72 378.56,322.83 377.82,322.98 377.08,323.16 376.34,323.37 375.61,323.62 374.89,323.89 374.18,324.20 373.48,324.53 372.78,324.90 372.10,325.28 371.42,325.69 370.75,326.12 370.10,326.58 369.46,327.05 368.83,327.54 368.21,328.05 367.60,328.58 367.01,329.12 366.43,329.67 365.87,330.23 365.32,330.81 364.79,331.39 364.27,331.98 363.77,332.58 363.28,333.19 362.80,333.81 362.34,334.43 361.89,335.06 361.45,335.70 361.03,336.35 360.61,337.00 360.21,337.66 359.81,338.33 359.43,339.00 359.05,339.68 358.69,340.36 358.33,341.05 357.98,341.74 357.64,342.44 357.30,343.14 356.97,343.84 356.65,344.55 356.34,345.26 356.02,345.98 355.72,346.70 355.41,347.42 355.12,348.14 354.82,348.86 354.53,349.59 354.24,350.32 353.95,351.05 353.66,351.78 353.38,352.51 353.09,353.24 352.81,353.97 352.52,354.70 352.24,355.43 351.95,356.16 351.66,356.89 351.37,357.62 351.07,358.34 350.78,359.07 350.48,359.79 350.17,360.51 349.86,361.22 349.55,361.94 349.23,362.65 348.90,363.35 348.57,364.05 348.23,364.75 347.89,365.45 347.53,366.14 347.17,366.82 346.80,367.50 347.48,367.34 348.18,367.20 348.88,367.08 349.60,366.97 350.32,366.87 351.06,366.77 351.80,366.69 352.54,366.62 353.30,366.55 354.05,366.48 354.82,366.42 355.58,366.35 356.35,366.29 357.11,366.23 357.88,366.16 358.65,366.09 359.41,366.01 360.18,365.92 360.94,365.83 361.69,365.72 362.44,365.61 363.18,365.48 363.92,365.33 364.65,365.17 365.36,364.99 366.07,364.79 366.77,364.57 367.46,364.33 368.13,364.07 368.79,363.78 369.44,363.47 370.07,363.13 370.69,362.77 371.30,362.39 371.89,361.98 372.47,361.56 373.03,361.12 373.59,360.65 374.12,360.17 374.65,359.67 375.16,359.16 375.66,358.63 376.15,358.08 376.62,357.52 377.08,356.95 377.53,356.36 377.96,355.76 378.38,355.15 378.79,354.53 379.18,353.90 379.56,353.26 379.93,352.61 380.29,351.96 380.64,351.30 380.98,350.63 381.31,349.95 381.63,349.27 381.94,348.58 382.25,347.89 382.54,347.19 382.83,346.49 383.12,345.79 383.40,345.08 383.67,344.38 383.94,343.67 384.20,342.96 384.46,342.25 384.72,341.54 384.98,340.83 385.23,340.12 385.49,339.41 385.74,338.71 385.99,338.01 386.24,337.31 386.49,336.61 386.74,335.91 386.98,335.22 387.22,334.52 387.46,333.83 387.69,333.13 387.92,332.43 388.14,331.74 388.35,331.04 388.56,330.34 388.77,329.64 388.96,328.93 389.15,328.22 389.33,327.51 389.50,326.80Z" fill="none" stroke="#8000ff" stroke-width="3.5" stroke-linejoin="round" stroke-linecap="round"/><rect x="402.40" y="335.5" width="54.60" height="55" fill="#fff" fill-opacity="0.6"/><rect x="414.70" y="344.50" width="9" height="3.6" fill="#8000ff"/><text transform="translate(434.00,351.10) scale(0.95,1.05)" font-size="13.3" text-anchor="start" font-weight="normal" >200</text><rect x="414.70" y="360.50" width="9" height="3.6" fill="#008000"/><text transform="translate(434.00,367.10) scale(0.95,1.05)" font-size="13.3" text-anchor="start" font-weight="normal" >400</text><rect x="414.70" y="376.50" width="9" height="3.6" fill="#ff0000"/><text transform="translate(434.00,383.10) scale(0.95,1.05)" font-size="13.3" text-anchor="start" font-weight="normal" >800</text><path d="M264.5,294.0 H471.4 V397.5 H264.5 Z" fill="none" stroke="#000" stroke-width="1"/><line x1="264.5" y1="393.50" x2="266.8" y2="393.50" stroke="#000" stroke-width="1"/><line x1="471.4" y1="393.50" x2="469.09999999999997" y2="393.50" stroke="#000" stroke-width="1"/><line x1="264.5" y1="385.50" x2="266.8" y2="385.50" stroke="#000" stroke-width="1"/><line x1="471.4" y1="385.50" x2="469.09999999999997" y2="385.50" stroke="#000" stroke-width="1"/><line x1="264.5" y1="377.50" x2="269.1" y2="377.50" stroke="#000" stroke-width="1"/><line x1="471.4" y1="377.50" x2="466.79999999999995" y2="377.50" stroke="#000" stroke-width="1"/><line x1="264.5" y1="369.50" x2="266.8" y2="369.50" stroke="#000" stroke-width="1"/><line x1="471.4" y1="369.50" x2="469.09999999999997" y2="369.50" stroke="#000" stroke-width="1"/><line x1="264.5" y1="361.50" x2="266.8" y2="361.50" stroke="#000" stroke-width="1"/><line x1="471.4" y1="361.50" x2="469.09999999999997" y2="361.50" stroke="#000" stroke-width="1"/><line x1="264.5" y1="353.50" x2="266.8" y2="353.50" stroke="#000" stroke-width="1"/><line x1="471.4" y1="353.50" x2="469.09999999999997" y2="353.50" stroke="#000" stroke-width="1"/><line x1="264.5" y1="345.50" x2="269.1" y2="345.50" stroke="#000" stroke-width="1"/><line x1="471.4" y1="345.50" x2="466.79999999999995" y2="345.50" stroke="#000" stroke-width="1"/><line x1="264.5" y1="337.50" x2="266.8" y2="337.50" stroke="#000" stroke-width="1"/><line x1="471.4" y1="337.50" x2="469.09999999999997" y2="337.50" stroke="#000" stroke-width="1"/><line x1="264.5" y1="329.50" x2="266.8" y2="329.50" stroke="#000" stroke-width="1"/><line x1="471.4" y1="329.50" x2="469.09999999999997" y2="329.50" stroke="#000" stroke-width="1"/><line x1="264.5" y1="321.50" x2="266.8" y2="321.50" stroke="#000" stroke-width="1"/><line x1="471.4" y1="321.50" x2="469.09999999999997" y2="321.50" stroke="#000" stroke-width="1"/><line x1="264.5" y1="313.50" x2="269.1" y2="313.50" stroke="#000" stroke-width="1"/><line x1="471.4" y1="313.50" x2="466.79999999999995" y2="313.50" stroke="#000" stroke-width="1"/><line x1="264.5" y1="305.50" x2="266.8" y2="305.50" stroke="#000" stroke-width="1"/><line x1="471.4" y1="305.50" x2="469.09999999999997" y2="305.50" stroke="#000" stroke-width="1"/><line x1="264.5" y1="297.50" x2="266.8" y2="297.50" stroke="#000" stroke-width="1"/><line x1="471.4" y1="297.50" x2="469.09999999999997" y2="297.50" stroke="#000" stroke-width="1"/><line x1="268.95" y1="397.5" x2="268.95" y2="395.2" stroke="#000" stroke-width="1"/><line x1="279.96" y1="397.5" x2="279.96" y2="395.2" stroke="#000" stroke-width="1"/><line x1="290.96" y1="397.5" x2="290.96" y2="395.2" stroke="#000" stroke-width="1"/><line x1="301.97" y1="397.5" x2="301.97" y2="392.9" stroke="#000" stroke-width="1"/><line x1="312.97" y1="397.5" x2="312.97" y2="395.2" stroke="#000" stroke-width="1"/><line x1="323.98" y1="397.5" x2="323.98" y2="395.2" stroke="#000" stroke-width="1"/><line x1="334.98" y1="397.5" x2="334.98" y2="395.2" stroke="#000" stroke-width="1"/><line x1="345.99" y1="397.5" x2="345.99" y2="395.2" stroke="#000" stroke-width="1"/><line x1="356.99" y1="397.5" x2="356.99" y2="395.2" stroke="#000" stroke-width="1"/><line x1="379.01" y1="397.5" x2="379.01" y2="395.2" stroke="#000" stroke-width="1"/><line x1="390.01" y1="397.5" x2="390.01" y2="395.2" stroke="#000" stroke-width="1"/><line x1="401.02" y1="397.5" x2="401.02" y2="395.2" stroke="#000" stroke-width="1"/><line x1="412.02" y1="397.5" x2="412.02" y2="395.2" stroke="#000" stroke-width="1"/><line x1="423.03" y1="397.5" x2="423.03" y2="395.2" stroke="#000" stroke-width="1"/><line x1="434.03" y1="397.5" x2="434.03" y2="392.9" stroke="#000" stroke-width="1"/><line x1="445.04" y1="397.5" x2="445.04" y2="395.2" stroke="#000" stroke-width="1"/><line x1="456.04" y1="397.5" x2="456.04" y2="395.2" stroke="#000" stroke-width="1"/><line x1="467.05" y1="397.5" x2="467.05" y2="395.2" stroke="#000" stroke-width="1"/><text x="301.97" y="414.10" font-size="15.0" text-anchor="middle" font-weight="normal" >-600</text><text x="368.00" y="414.10" font-size="15.0" text-anchor="middle" font-weight="normal" >0</text><text x="434.03" y="414.10" font-size="15.0" text-anchor="middle" font-weight="normal" >600</text><text x="367.95" y="436.50" font-size="16.6" text-anchor="middle"><tspan font-style="italic">E</tspan> (kV/cm)</text><text x="275.00" y="317.50" font-size="18.5" text-anchor="start" font-weight="bold" >h</text><text x="295.50" y="338.80" font-size="13.5" text-anchor="start" font-weight="bold" >5 kHz</text></g><g><line x1="477.0" y1="345.5" x2="684.5" y2="345.5" stroke="#333" stroke-width="1"/><line x1="580.5" y1="294.0" x2="580.5" y2="397.5" stroke="#333" stroke-width="1"/><path d="M663.20,312.30 661.02,312.17 658.84,312.08 656.66,312.02 654.50,311.99 652.33,311.98 650.18,312.00 648.02,312.05 645.87,312.12 643.72,312.21 641.58,312.32 639.43,312.45 637.29,312.59 635.15,312.76 633.01,312.93 630.87,313.12 628.73,313.31 626.59,313.52 624.45,313.73 622.31,313.94 620.17,314.16 618.02,314.38 615.87,314.61 613.72,314.83 611.57,315.05 609.41,315.26 607.25,315.47 605.08,315.67 602.91,315.86 600.73,316.04 598.55,316.21 596.37,316.39 594.19,316.58 592.03,316.81 589.88,317.08 587.76,317.41 585.66,317.81 583.60,318.30 581.58,318.89 579.60,319.60 577.67,320.43 575.80,321.41 573.99,322.54 572.24,323.80 570.55,325.18 568.93,326.67 567.38,328.24 565.90,329.88 564.48,331.57 563.14,333.29 561.86,335.04 560.64,336.81 559.46,338.61 558.33,340.44 557.24,342.28 556.17,344.14 555.12,346.02 554.08,347.91 553.05,349.81 552.02,351.72 550.98,353.63 549.92,355.54 548.83,357.43 547.69,359.27 546.48,361.05 545.18,362.73 543.79,364.30 542.27,365.73 540.63,367.00 538.85,368.11 536.97,369.08 534.99,369.92 532.93,370.65 530.83,371.29 528.68,371.85 526.51,372.35 524.34,372.81 522.19,373.24 520.05,373.65 517.92,374.04 515.81,374.41 513.70,374.78 511.59,375.14 509.49,375.50 507.39,375.86 505.28,376.24 503.17,376.62 501.06,377.02 498.94,377.45 496.80,377.90 498.98,378.31 501.15,378.47 503.33,378.59 505.50,378.66 507.68,378.70 509.85,378.70 512.03,378.67 514.20,378.61 516.37,378.53 518.55,378.42 520.72,378.30 522.89,378.16 525.06,378.01 527.23,377.86 529.40,377.69 531.57,377.53 533.75,377.37 535.92,377.22 538.09,377.07 540.26,376.92 542.43,376.78 544.60,376.63 546.77,376.49 548.94,376.34 551.11,376.18 553.27,376.01 555.44,375.82 557.61,375.63 559.78,375.41 561.95,375.18 564.11,374.92 566.28,374.64 568.44,374.34 570.61,374.00 572.77,373.63 574.92,373.22 577.06,372.76 579.17,372.23 581.25,371.62 583.29,370.93 585.28,370.14 587.22,369.25 589.10,368.24 590.92,367.10 592.65,365.82 594.31,364.41 595.90,362.89 597.43,361.28 598.90,359.60 600.32,357.87 601.69,356.13 603.03,354.39 604.34,352.66 605.61,350.93 606.83,349.19 608.01,347.43 609.14,345.63 610.21,343.79 611.22,341.88 612.16,339.90 613.04,337.83 613.87,335.71 614.69,333.57 615.55,331.46 616.46,329.41 617.47,327.47 618.62,325.69 619.95,324.09 621.46,322.71 623.14,321.52 624.96,320.51 626.90,319.67 628.95,318.97 631.07,318.39 633.25,317.93 635.45,317.55 637.67,317.24 639.87,316.99 642.06,316.77 644.24,316.57 646.40,316.36 648.54,316.13 650.68,315.86 652.80,315.53 654.90,315.12 657.00,314.61 659.08,313.98 661.14,313.22 663.20,312.30Z" fill="none" stroke="#ff0000" stroke-width="3.5" stroke-linejoin="round" stroke-linecap="round"/><path d="M622.20,317.20 620.91,317.17 619.62,317.18 618.35,317.21 617.09,317.27 615.83,317.35 614.58,317.45 613.34,317.57 612.10,317.71 610.86,317.86 609.63,318.02 608.40,318.19 607.17,318.36 605.94,318.54 604.71,318.72 603.48,318.89 602.24,319.06 601.01,319.23 599.76,319.38 598.51,319.53 597.26,319.65 595.99,319.77 594.72,319.86 593.44,319.92 592.15,319.97 590.86,320.02 589.57,320.07 588.28,320.13 587.00,320.23 585.74,320.37 584.50,320.56 583.28,320.82 582.09,321.16 580.94,321.59 579.82,322.13 578.74,322.75 577.70,323.46 576.69,324.22 575.71,325.03 574.76,325.86 573.84,326.72 572.94,327.60 572.07,328.50 571.23,329.42 570.42,330.37 569.62,331.33 568.86,332.31 568.11,333.31 567.39,334.33 566.69,335.36 566.01,336.41 565.34,337.48 564.70,338.56 564.08,339.65 563.47,340.75 562.88,341.87 562.31,342.99 561.75,344.13 561.21,345.27 560.68,346.42 560.16,347.58 559.65,348.74 559.16,349.91 558.66,351.08 558.17,352.25 557.68,353.42 557.19,354.59 556.70,355.75 556.20,356.91 555.69,358.06 555.17,359.20 554.64,360.34 554.10,361.46 553.54,362.57 552.95,363.67 552.35,364.75 551.72,365.81 551.07,366.85 550.39,367.87 549.66,368.85 548.87,369.77 547.99,370.58 547.01,371.28 545.91,371.84 544.67,372.23 543.30,372.45 541.88,372.60 540.52,372.79 539.33,373.12 538.40,373.70 539.71,374.19 541.01,374.13 542.28,374.03 543.54,373.89 544.79,373.71 546.03,373.52 547.27,373.32 548.50,373.10 549.73,372.90 550.96,372.69 552.20,372.51 553.45,372.35 554.71,372.22 555.98,372.10 557.26,372.00 558.53,371.92 559.82,371.84 561.11,371.78 562.40,371.71 563.69,371.65 564.98,371.59 566.27,371.52 567.56,371.44 568.85,371.35 570.13,371.25 571.41,371.12 572.68,370.98 573.95,370.81 575.21,370.61 576.45,370.38 577.69,370.11 578.92,369.81 580.13,369.47 581.33,369.08 582.51,368.65 583.68,368.17 584.82,367.64 585.93,367.06 587.02,366.44 588.07,365.77 589.09,365.05 590.06,364.28 591.00,363.45 591.89,362.58 592.73,361.65 593.52,360.68 594.27,359.66 594.99,358.60 595.67,357.51 596.32,356.40 596.94,355.26 597.54,354.11 598.12,352.94 598.69,351.76 599.24,350.59 599.79,349.41 600.33,348.25 600.86,347.08 601.39,345.92 601.92,344.76 602.44,343.61 602.96,342.46 603.47,341.31 603.98,340.16 604.49,339.01 605.00,337.86 605.51,336.71 606.01,335.56 606.51,334.41 607.02,333.25 607.52,332.09 608.02,330.93 608.53,329.77 609.03,328.60 609.54,327.42 610.05,326.24 610.56,325.05 611.08,323.86 611.62,322.68 612.22,321.56 612.90,320.51 613.70,319.59 614.64,318.82 615.76,318.24 617.09,317.88 618.60,317.73 620.10,317.66 621.37,317.53 622.20,317.20Z" fill="none" stroke="#008000" stroke-width="3.5" stroke-linejoin="round" stroke-linecap="round"/><path d="M602.20,329.00 601.87,328.12 601.49,327.32 601.05,326.60 600.57,325.94 600.04,325.35 599.46,324.83 598.85,324.37 598.20,323.96 597.52,323.62 596.81,323.33 596.07,323.09 595.32,322.90 594.54,322.76 593.75,322.66 592.95,322.60 592.14,322.58 591.32,322.59 590.50,322.64 589.68,322.73 588.85,322.85 588.03,323.00 587.21,323.18 586.39,323.39 585.57,323.63 584.77,323.90 583.97,324.20 583.17,324.52 582.39,324.87 581.63,325.24 580.87,325.64 580.13,326.06 579.41,326.50 578.70,326.96 578.02,327.44 577.35,327.93 576.71,328.45 576.09,328.98 575.49,329.53 574.92,330.10 574.37,330.68 573.83,331.27 573.32,331.88 572.83,332.50 572.35,333.14 571.89,333.79 571.45,334.45 571.03,335.12 570.62,335.80 570.23,336.49 569.85,337.20 569.48,337.91 569.13,338.63 568.79,339.37 568.46,340.11 568.14,340.85 567.83,341.61 567.53,342.37 567.24,343.13 566.96,343.91 566.69,344.68 566.42,345.47 566.16,346.25 565.90,347.04 565.65,347.84 565.40,348.63 565.16,349.43 564.91,350.23 564.67,351.03 564.43,351.83 564.19,352.63 563.96,353.43 563.71,354.23 563.47,355.03 563.23,355.83 562.98,356.62 562.73,357.41 562.47,358.20 562.21,358.98 561.94,359.76 561.67,360.54 561.39,361.31 561.10,362.07 560.80,362.82 560.50,363.57 560.18,364.32 559.85,365.05 559.51,365.78 559.16,366.49 558.80,367.20 559.68,366.75 560.36,366.71 561.06,366.67 561.77,366.65 562.48,366.62 563.21,366.60 563.94,366.58 564.67,366.57 565.41,366.55 566.16,366.54 566.90,366.52 567.66,366.50 568.41,366.47 569.16,366.44 569.92,366.40 570.67,366.36 571.42,366.31 572.17,366.24 572.92,366.17 573.66,366.09 574.40,365.99 575.14,365.88 575.86,365.75 576.58,365.61 577.30,365.45 578.00,365.27 578.69,365.07 579.38,364.85 580.05,364.61 580.71,364.35 581.36,364.07 582.00,363.76 582.63,363.43 583.24,363.08 583.84,362.71 584.43,362.32 585.00,361.91 585.57,361.48 586.12,361.03 586.66,360.57 587.19,360.09 587.71,359.60 588.21,359.09 588.71,358.57 589.19,358.03 589.66,357.49 590.12,356.93 590.57,356.36 591.01,355.77 591.43,355.18 591.85,354.58 592.25,353.97 592.64,353.36 593.02,352.73 593.39,352.10 593.76,351.46 594.11,350.82 594.45,350.17 594.79,349.51 595.12,348.85 595.44,348.19 595.75,347.52 596.05,346.85 596.35,346.17 596.65,345.49 596.93,344.81 597.21,344.13 597.49,343.44 597.76,342.75 598.03,342.07 598.30,341.38 598.56,340.69 598.82,340.00 599.07,339.32 599.32,338.63 599.57,337.95 599.82,337.27 600.06,336.58 600.30,335.90 600.53,335.22 600.76,334.53 600.97,333.85 601.18,333.16 601.38,332.48 601.57,331.79 601.75,331.09 601.91,330.40 602.06,329.70 602.20,329.00Z" fill="none" stroke="#8000ff" stroke-width="3.5" stroke-linejoin="round" stroke-linecap="round"/><rect x="616.60" y="335.5" width="54.50" height="55" fill="#fff" fill-opacity="0.6"/><rect x="628.90" y="344.50" width="9" height="3.6" fill="#8000ff"/><text transform="translate(648.60,351.10) scale(0.95,1.05)" font-size="13.3" text-anchor="start" font-weight="normal" >250</text><rect x="628.90" y="360.50" width="9" height="3.6" fill="#008000"/><text transform="translate(648.60,367.10) scale(0.95,1.05)" font-size="13.3" text-anchor="start" font-weight="normal" >500</text><rect x="628.90" y="376.50" width="9" height="3.6" fill="#ff0000"/><text transform="translate(648.60,383.10) scale(0.95,1.05)" font-size="13.3" text-anchor="start" font-weight="normal" >900</text><path d="M477.0,294.0 H684.5 V397.5 H477.0 Z" fill="none" stroke="#000" stroke-width="1"/><line x1="477.0" y1="393.50" x2="479.3" y2="393.50" stroke="#000" stroke-width="1"/><line x1="684.5" y1="393.50" x2="682.2" y2="393.50" stroke="#000" stroke-width="1"/><line x1="477.0" y1="385.50" x2="479.3" y2="385.50" stroke="#000" stroke-width="1"/><line x1="684.5" y1="385.50" x2="682.2" y2="385.50" stroke="#000" stroke-width="1"/><line x1="477.0" y1="377.50" x2="481.6" y2="377.50" stroke="#000" stroke-width="1"/><line x1="684.5" y1="377.50" x2="679.9" y2="377.50" stroke="#000" stroke-width="1"/><line x1="477.0" y1="369.50" x2="479.3" y2="369.50" stroke="#000" stroke-width="1"/><line x1="684.5" y1="369.50" x2="682.2" y2="369.50" stroke="#000" stroke-width="1"/><line x1="477.0" y1="361.50" x2="479.3" y2="361.50" stroke="#000" stroke-width="1"/><line x1="684.5" y1="361.50" x2="682.2" y2="361.50" stroke="#000" stroke-width="1"/><line x1="477.0" y1="353.50" x2="479.3" y2="353.50" stroke="#000" stroke-width="1"/><line x1="684.5" y1="353.50" x2="682.2" y2="353.50" stroke="#000" stroke-width="1"/><line x1="477.0" y1="345.50" x2="481.6" y2="345.50" stroke="#000" stroke-width="1"/><line x1="684.5" y1="345.50" x2="679.9" y2="345.50" stroke="#000" stroke-width="1"/><line x1="477.0" y1="337.50" x2="479.3" y2="337.50" stroke="#000" stroke-width="1"/><line x1="684.5" y1="337.50" x2="682.2" y2="337.50" stroke="#000" stroke-width="1"/><line x1="477.0" y1="329.50" x2="479.3" y2="329.50" stroke="#000" stroke-width="1"/><line x1="684.5" y1="329.50" x2="682.2" y2="329.50" stroke="#000" stroke-width="1"/><line x1="477.0" y1="321.50" x2="479.3" y2="321.50" stroke="#000" stroke-width="1"/><line x1="684.5" y1="321.50" x2="682.2" y2="321.50" stroke="#000" stroke-width="1"/><line x1="477.0" y1="313.50" x2="481.6" y2="313.50" stroke="#000" stroke-width="1"/><line x1="684.5" y1="313.50" x2="679.9" y2="313.50" stroke="#000" stroke-width="1"/><line x1="477.0" y1="305.50" x2="479.3" y2="305.50" stroke="#000" stroke-width="1"/><line x1="684.5" y1="305.50" x2="682.2" y2="305.50" stroke="#000" stroke-width="1"/><line x1="477.0" y1="297.50" x2="479.3" y2="297.50" stroke="#000" stroke-width="1"/><line x1="684.5" y1="297.50" x2="682.2" y2="297.50" stroke="#000" stroke-width="1"/><line x1="481.26" y1="397.5" x2="481.26" y2="395.2" stroke="#000" stroke-width="1"/><line x1="490.28" y1="397.5" x2="490.28" y2="395.2" stroke="#000" stroke-width="1"/><line x1="499.30" y1="397.5" x2="499.30" y2="395.2" stroke="#000" stroke-width="1"/><line x1="508.33" y1="397.5" x2="508.33" y2="392.9" stroke="#000" stroke-width="1"/><line x1="517.35" y1="397.5" x2="517.35" y2="395.2" stroke="#000" stroke-width="1"/><line x1="526.37" y1="397.5" x2="526.37" y2="395.2" stroke="#000" stroke-width="1"/><line x1="535.39" y1="397.5" x2="535.39" y2="395.2" stroke="#000" stroke-width="1"/><line x1="544.41" y1="397.5" x2="544.41" y2="395.2" stroke="#000" stroke-width="1"/><line x1="553.43" y1="397.5" x2="553.43" y2="395.2" stroke="#000" stroke-width="1"/><line x1="562.46" y1="397.5" x2="562.46" y2="395.2" stroke="#000" stroke-width="1"/><line x1="571.48" y1="397.5" x2="571.48" y2="395.2" stroke="#000" stroke-width="1"/><line x1="589.52" y1="397.5" x2="589.52" y2="395.2" stroke="#000" stroke-width="1"/><line x1="598.54" y1="397.5" x2="598.54" y2="395.2" stroke="#000" stroke-width="1"/><line x1="607.57" y1="397.5" x2="607.57" y2="395.2" stroke="#000" stroke-width="1"/><line x1="616.59" y1="397.5" x2="616.59" y2="395.2" stroke="#000" stroke-width="1"/><line x1="625.61" y1="397.5" x2="625.61" y2="395.2" stroke="#000" stroke-width="1"/><line x1="634.63" y1="397.5" x2="634.63" y2="395.2" stroke="#000" stroke-width="1"/><line x1="643.65" y1="397.5" x2="643.65" y2="395.2" stroke="#000" stroke-width="1"/><line x1="652.67" y1="397.5" x2="652.67" y2="392.9" stroke="#000" stroke-width="1"/><line x1="661.70" y1="397.5" x2="661.70" y2="395.2" stroke="#000" stroke-width="1"/><line x1="670.72" y1="397.5" x2="670.72" y2="395.2" stroke="#000" stroke-width="1"/><line x1="679.74" y1="397.5" x2="679.74" y2="395.2" stroke="#000" stroke-width="1"/><text x="508.33" y="414.10" font-size="15.0" text-anchor="middle" font-weight="normal" >-800</text><text x="580.50" y="414.10" font-size="15.0" text-anchor="middle" font-weight="normal" >0</text><text x="652.67" y="414.10" font-size="15.0" text-anchor="middle" font-weight="normal" >800</text><text x="580.75" y="436.50" font-size="16.6" text-anchor="middle"><tspan font-style="italic">E</tspan> (kV/cm)</text><text x="487.50" y="317.50" font-size="18.5" text-anchor="start" font-weight="bold" >i</text><text x="503.00" y="338.80" font-size="13.5" text-anchor="start" font-weight="bold" >10 kHz</text></g></svg>
</body></html>
